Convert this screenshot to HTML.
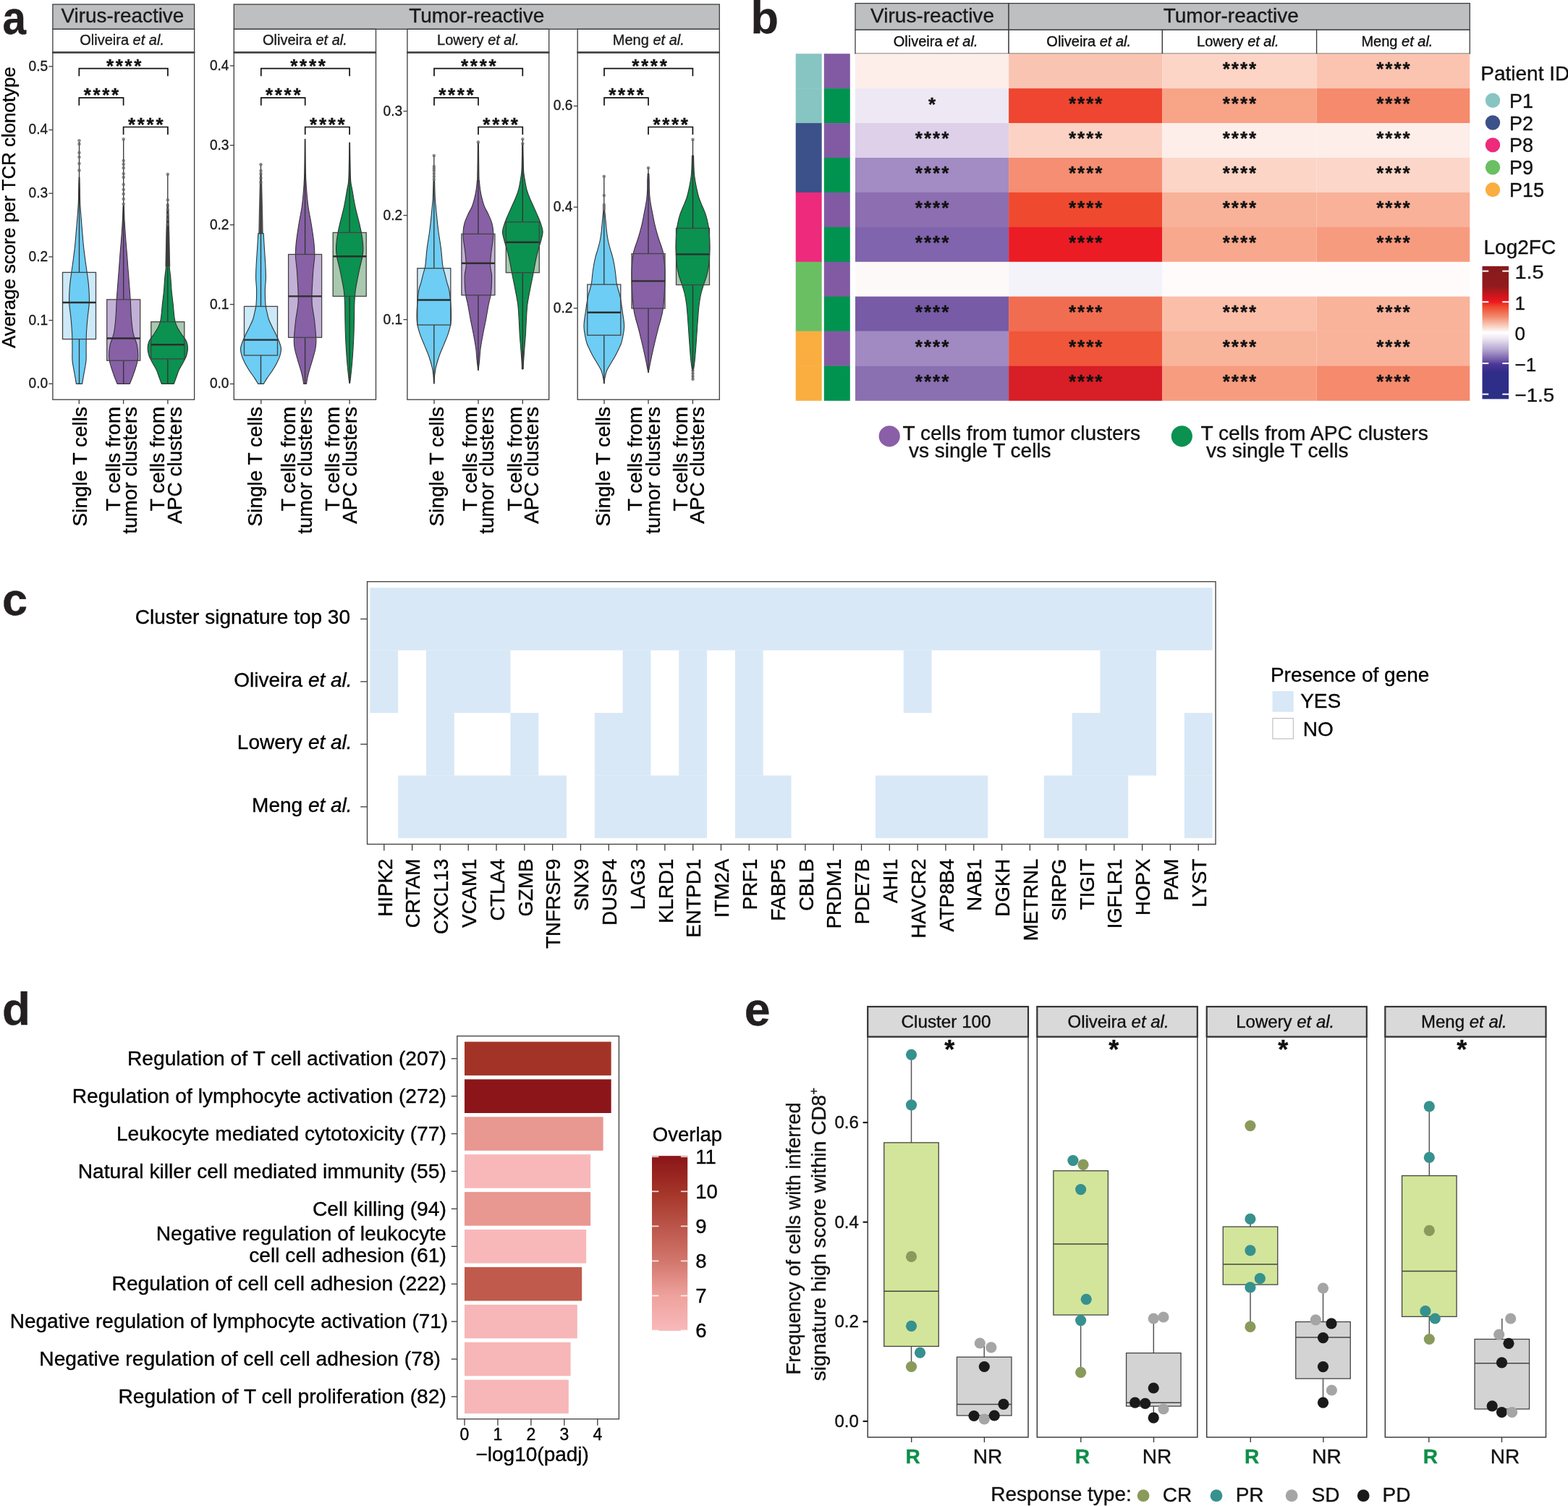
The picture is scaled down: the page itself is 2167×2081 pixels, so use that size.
<!DOCTYPE html><html><head><meta charset="utf-8"><title>Figure</title><style>html,body{margin:0;padding:0;background:#fff}svg{display:block}</style></head><body>
<svg width="2167" height="2081" viewBox="0 0 2167 2081" font-family="'Liberation Sans', Arial, Helvetica, sans-serif">
<rect x="0.00" y="0.00" width="2167.00" height="2081.00" fill="#fff"/>
<text stroke="#231f20" stroke-width="0.35" x="3.60" y="47.00" font-size="64" font-weight="bold" fill="#231f20" textLength="32.50" lengthAdjust="spacingAndGlyphs">a</text>
<rect x="72.90" y="6.00" width="195.70" height="34.30" fill="#bebfc1" stroke="#3d3d3d" stroke-width="1.3"/>
<text stroke="#1a1a1a" stroke-width="0.35" x="169.40" y="31.20" font-size="28" text-anchor="middle" fill="#1a1a1a" textLength="169.80" lengthAdjust="spacingAndGlyphs">Virus-reactive</text>
<rect x="323.30" y="6.00" width="671.00" height="34.30" fill="#bebfc1" stroke="#3d3d3d" stroke-width="1.3"/>
<text stroke="#1a1a1a" stroke-width="0.35" x="658.80" y="31.20" font-size="28" text-anchor="middle" fill="#1a1a1a">Tumor-reactive</text>
<rect x="72.90" y="40.30" width="195.70" height="32.20" fill="#fff" stroke="#3d3d3d" stroke-width="1.3"/>
<text stroke="#1a1a1a" stroke-width="0.35" x="168.60" y="61.9" font-size="20" text-anchor="middle" fill="#1a1a1a">Oliveira <tspan font-style="italic">et al.</tspan></text>
<rect x="323.30" y="40.30" width="196.20" height="32.20" fill="#fff" stroke="#3d3d3d" stroke-width="1.3"/>
<text stroke="#1a1a1a" stroke-width="0.35" x="421.40" y="61.9" font-size="20" text-anchor="middle" fill="#1a1a1a">Oliveira <tspan font-style="italic">et al.</tspan></text>
<rect x="562.90" y="40.30" width="195.80" height="32.20" fill="#fff" stroke="#3d3d3d" stroke-width="1.3"/>
<text stroke="#1a1a1a" stroke-width="0.35" x="660.80" y="61.9" font-size="20" text-anchor="middle" fill="#1a1a1a">Lowery <tspan font-style="italic">et al.</tspan></text>
<rect x="798.20" y="40.30" width="196.10" height="32.20" fill="#fff" stroke="#3d3d3d" stroke-width="1.3"/>
<text stroke="#1a1a1a" stroke-width="0.35" x="896.30" y="61.9" font-size="20" text-anchor="middle" fill="#1a1a1a">Meng <tspan font-style="italic">et al.</tspan></text>
<line x1="67.40" y1="530.30" x2="72.90" y2="530.30" stroke="#3d3d3d" stroke-width="1.3"/>
<text stroke="#1a1a1a" stroke-width="0.35" x="66.10" y="536.20" font-size="20.5" text-anchor="end" fill="#1a1a1a" textLength="26.60" lengthAdjust="spacingAndGlyphs">0.0</text>
<line x1="67.40" y1="442.60" x2="72.90" y2="442.60" stroke="#3d3d3d" stroke-width="1.3"/>
<text stroke="#1a1a1a" stroke-width="0.35" x="66.10" y="448.50" font-size="20.5" text-anchor="end" fill="#1a1a1a" textLength="26.60" lengthAdjust="spacingAndGlyphs">0.1</text>
<line x1="67.40" y1="354.90" x2="72.90" y2="354.90" stroke="#3d3d3d" stroke-width="1.3"/>
<text stroke="#1a1a1a" stroke-width="0.35" x="66.10" y="360.80" font-size="20.5" text-anchor="end" fill="#1a1a1a" textLength="26.60" lengthAdjust="spacingAndGlyphs">0.2</text>
<line x1="67.40" y1="267.20" x2="72.90" y2="267.20" stroke="#3d3d3d" stroke-width="1.3"/>
<text stroke="#1a1a1a" stroke-width="0.35" x="66.10" y="273.10" font-size="20.5" text-anchor="end" fill="#1a1a1a" textLength="26.60" lengthAdjust="spacingAndGlyphs">0.3</text>
<line x1="67.40" y1="179.50" x2="72.90" y2="179.50" stroke="#3d3d3d" stroke-width="1.3"/>
<text stroke="#1a1a1a" stroke-width="0.35" x="66.10" y="185.40" font-size="20.5" text-anchor="end" fill="#1a1a1a" textLength="26.60" lengthAdjust="spacingAndGlyphs">0.4</text>
<line x1="67.40" y1="91.80" x2="72.90" y2="91.80" stroke="#3d3d3d" stroke-width="1.3"/>
<text stroke="#1a1a1a" stroke-width="0.35" x="66.10" y="97.70" font-size="20.5" text-anchor="end" fill="#1a1a1a" textLength="26.60" lengthAdjust="spacingAndGlyphs">0.5</text>
<line x1="317.80" y1="530.50" x2="323.30" y2="530.50" stroke="#3d3d3d" stroke-width="1.3"/>
<text stroke="#1a1a1a" stroke-width="0.35" x="316.50" y="536.40" font-size="20.5" text-anchor="end" fill="#1a1a1a" textLength="26.60" lengthAdjust="spacingAndGlyphs">0.0</text>
<line x1="317.80" y1="420.60" x2="323.30" y2="420.60" stroke="#3d3d3d" stroke-width="1.3"/>
<text stroke="#1a1a1a" stroke-width="0.35" x="316.50" y="426.50" font-size="20.5" text-anchor="end" fill="#1a1a1a" textLength="26.60" lengthAdjust="spacingAndGlyphs">0.1</text>
<line x1="317.80" y1="310.70" x2="323.30" y2="310.70" stroke="#3d3d3d" stroke-width="1.3"/>
<text stroke="#1a1a1a" stroke-width="0.35" x="316.50" y="316.60" font-size="20.5" text-anchor="end" fill="#1a1a1a" textLength="26.60" lengthAdjust="spacingAndGlyphs">0.2</text>
<line x1="317.80" y1="200.80" x2="323.30" y2="200.80" stroke="#3d3d3d" stroke-width="1.3"/>
<text stroke="#1a1a1a" stroke-width="0.35" x="316.50" y="206.70" font-size="20.5" text-anchor="end" fill="#1a1a1a" textLength="26.60" lengthAdjust="spacingAndGlyphs">0.3</text>
<line x1="317.80" y1="90.90" x2="323.30" y2="90.90" stroke="#3d3d3d" stroke-width="1.3"/>
<text stroke="#1a1a1a" stroke-width="0.35" x="316.50" y="96.80" font-size="20.5" text-anchor="end" fill="#1a1a1a" textLength="26.60" lengthAdjust="spacingAndGlyphs">0.4</text>
<line x1="557.40" y1="441.60" x2="562.90" y2="441.60" stroke="#3d3d3d" stroke-width="1.3"/>
<text stroke="#1a1a1a" stroke-width="0.35" x="556.10" y="447.50" font-size="20.5" text-anchor="end" fill="#1a1a1a" textLength="26.60" lengthAdjust="spacingAndGlyphs">0.1</text>
<line x1="557.40" y1="297.60" x2="562.90" y2="297.60" stroke="#3d3d3d" stroke-width="1.3"/>
<text stroke="#1a1a1a" stroke-width="0.35" x="556.10" y="303.50" font-size="20.5" text-anchor="end" fill="#1a1a1a" textLength="26.60" lengthAdjust="spacingAndGlyphs">0.2</text>
<line x1="557.40" y1="153.60" x2="562.90" y2="153.60" stroke="#3d3d3d" stroke-width="1.3"/>
<text stroke="#1a1a1a" stroke-width="0.35" x="556.10" y="159.50" font-size="20.5" text-anchor="end" fill="#1a1a1a" textLength="26.60" lengthAdjust="spacingAndGlyphs">0.3</text>
<line x1="792.70" y1="425.90" x2="798.20" y2="425.90" stroke="#3d3d3d" stroke-width="1.3"/>
<text stroke="#1a1a1a" stroke-width="0.35" x="791.40" y="431.80" font-size="20.5" text-anchor="end" fill="#1a1a1a" textLength="26.60" lengthAdjust="spacingAndGlyphs">0.2</text>
<line x1="792.70" y1="286.20" x2="798.20" y2="286.20" stroke="#3d3d3d" stroke-width="1.3"/>
<text stroke="#1a1a1a" stroke-width="0.35" x="791.40" y="292.10" font-size="20.5" text-anchor="end" fill="#1a1a1a" textLength="26.60" lengthAdjust="spacingAndGlyphs">0.4</text>
<line x1="792.70" y1="146.50" x2="798.20" y2="146.50" stroke="#3d3d3d" stroke-width="1.3"/>
<text stroke="#1a1a1a" stroke-width="0.35" x="791.40" y="152.40" font-size="20.5" text-anchor="end" fill="#1a1a1a" textLength="26.60" lengthAdjust="spacingAndGlyphs">0.6</text>
<rect x="86.50" y="376.40" width="46.00" height="92.20" fill="#cde9f8"/>
<path d="M109.50,245.00 L109.90,245.00 C109.97,247.50 110.17,254.10 110.30,260.00 C110.43,265.90 110.40,273.60 110.70,280.40 C111.00,287.20 111.58,294.00 112.10,300.80 C112.62,307.60 113.22,314.40 113.80,321.20 C114.38,328.00 114.87,334.80 115.60,341.60 C116.33,348.40 117.43,356.22 118.20,362.00 C118.97,367.78 119.52,371.18 120.20,376.30 C120.88,381.42 121.78,387.42 122.30,392.70 C122.82,397.98 123.15,403.38 123.30,408.00 C123.45,412.62 123.60,414.93 123.20,420.40 C122.80,425.87 121.53,434.00 120.90,440.80 C120.27,447.60 119.70,454.40 119.40,461.20 C119.10,468.00 119.15,475.65 119.10,481.60 C119.05,487.55 119.33,492.65 119.10,496.90 C118.87,501.15 118.25,503.70 117.70,507.10 C117.15,510.50 116.48,513.42 115.80,517.30 C115.12,521.18 113.97,528.22 113.60,530.40 L105.40,530.40 C105.03,528.22 103.88,521.18 103.20,517.30 C102.52,513.42 101.85,510.50 101.30,507.10 C100.75,503.70 100.13,501.15 99.90,496.90 C99.67,492.65 99.95,487.55 99.90,481.60 C99.85,475.65 99.90,468.00 99.60,461.20 C99.30,454.40 98.73,447.60 98.10,440.80 C97.47,434.00 96.20,425.87 95.80,420.40 C95.40,414.93 95.55,412.62 95.70,408.00 C95.85,403.38 96.18,397.98 96.70,392.70 C97.22,387.42 98.12,381.42 98.80,376.30 C99.48,371.18 100.03,367.78 100.80,362.00 C101.57,356.22 102.67,348.40 103.40,341.60 C104.13,334.80 104.62,328.00 105.20,321.20 C105.78,314.40 106.38,307.60 106.90,300.80 C107.42,294.00 108.00,287.20 108.30,280.40 C108.60,273.60 108.57,265.90 108.70,260.00 C108.83,254.10 109.03,247.50 109.10,245.00 Z" fill="#6dcdf4" stroke="#333" stroke-width="1.1" stroke-linejoin="round"/>
<line x1="109.50" y1="196.00" x2="109.50" y2="376.40" stroke="#333" stroke-width="1.3"/>
<line x1="109.50" y1="468.60" x2="109.50" y2="530.40" stroke="#333" stroke-width="1.3"/>
<circle cx="109.50" cy="194.30" r="2.30" fill="#666" fill-opacity="0.75"/>
<circle cx="109.50" cy="199.00" r="2.30" fill="#666" fill-opacity="0.75"/>
<circle cx="109.50" cy="211.00" r="2.30" fill="#666" fill-opacity="0.75"/>
<circle cx="109.50" cy="217.00" r="2.30" fill="#666" fill-opacity="0.75"/>
<circle cx="109.50" cy="226.00" r="2.30" fill="#666" fill-opacity="0.75"/>
<circle cx="109.50" cy="235.40" r="2.30" fill="#666" fill-opacity="0.75"/>
<rect x="86.50" y="376.40" width="46.00" height="92.20" fill="none" stroke="#444" stroke-width="1.3"/>
<line x1="86.50" y1="418.00" x2="132.50" y2="418.00" stroke="#2d2d2d" stroke-width="2.4"/>
<rect x="147.70" y="413.90" width="46.00" height="84.30" fill="#c3b0d7"/>
<path d="M170.70,284.50 L171.30,284.50 C171.38,287.08 171.62,295.58 171.80,300.00 C171.98,304.42 172.07,305.77 172.40,311.00 C172.73,316.23 173.28,324.60 173.80,331.40 C174.32,338.20 174.97,345.00 175.50,351.80 C176.03,358.60 176.48,365.38 177.00,372.20 C177.52,379.02 178.08,385.90 178.60,392.70 C179.12,399.50 179.60,404.98 180.10,413.00 C180.60,421.02 180.92,432.77 181.60,440.80 C182.28,448.83 182.92,455.25 184.20,461.20 C185.48,467.15 188.20,471.40 189.30,476.50 C190.40,481.60 190.80,487.55 190.80,491.80 C190.80,496.05 190.07,498.60 189.30,502.00 C188.53,505.40 187.32,508.80 186.20,512.20 C185.08,515.60 183.75,519.37 182.60,522.40 C181.45,525.43 179.85,529.07 179.30,530.40 L162.10,530.40 C161.55,529.07 159.95,525.43 158.80,522.40 C157.65,519.37 156.32,515.60 155.20,512.20 C154.08,508.80 152.87,505.40 152.10,502.00 C151.33,498.60 150.60,496.05 150.60,491.80 C150.60,487.55 151.00,481.60 152.10,476.50 C153.20,471.40 155.92,467.15 157.20,461.20 C158.48,455.25 159.12,448.83 159.80,440.80 C160.48,432.77 160.80,421.02 161.30,413.00 C161.80,404.98 162.28,399.50 162.80,392.70 C163.32,385.90 163.88,379.02 164.40,372.20 C164.92,365.38 165.37,358.60 165.90,351.80 C166.43,345.00 167.08,338.20 167.60,331.40 C168.12,324.60 168.67,316.23 169.00,311.00 C169.33,305.77 169.42,304.42 169.60,300.00 C169.78,295.58 170.02,287.08 170.10,284.50 Z" fill="#8760a6" stroke="#333" stroke-width="1.1" stroke-linejoin="round"/>
<line x1="170.70" y1="192.40" x2="170.70" y2="413.90" stroke="#333" stroke-width="1.3"/>
<line x1="170.70" y1="498.20" x2="170.70" y2="530.40" stroke="#333" stroke-width="1.3"/>
<circle cx="170.70" cy="192.40" r="2.30" fill="#666" fill-opacity="0.75"/>
<circle cx="170.70" cy="222.00" r="2.30" fill="#666" fill-opacity="0.75"/>
<circle cx="170.70" cy="227.00" r="2.30" fill="#666" fill-opacity="0.75"/>
<circle cx="170.70" cy="232.00" r="2.30" fill="#666" fill-opacity="0.75"/>
<circle cx="170.70" cy="240.00" r="2.30" fill="#666" fill-opacity="0.75"/>
<circle cx="170.70" cy="245.00" r="2.30" fill="#666" fill-opacity="0.75"/>
<circle cx="170.70" cy="255.00" r="2.30" fill="#666" fill-opacity="0.75"/>
<circle cx="170.70" cy="262.00" r="2.30" fill="#666" fill-opacity="0.75"/>
<circle cx="170.70" cy="268.00" r="2.30" fill="#666" fill-opacity="0.75"/>
<circle cx="170.70" cy="275.00" r="2.30" fill="#666" fill-opacity="0.75"/>
<circle cx="170.70" cy="282.00" r="2.30" fill="#666" fill-opacity="0.75"/>
<rect x="147.70" y="413.90" width="46.00" height="84.30" fill="none" stroke="#444" stroke-width="1.3"/>
<line x1="147.70" y1="467.50" x2="193.70" y2="467.50" stroke="#2d2d2d" stroke-width="2.4"/>
<rect x="208.80" y="444.70" width="46.00" height="51.20" fill="#a8c9ae"/>
<path d="M231.80,290.00 L232.60,290.00 C232.72,296.67 233.05,317.15 233.30,330.00 C233.55,342.85 233.70,358.37 234.10,367.10 C234.50,375.83 235.18,376.43 235.70,382.40 C236.22,388.37 236.62,396.57 237.20,402.90 C237.78,409.23 238.52,414.08 239.20,420.40 C239.88,426.72 240.43,435.70 241.30,440.80 C242.17,445.90 242.87,447.60 244.40,451.00 C245.93,454.40 248.30,457.80 250.50,461.20 C252.70,464.60 256.10,468.00 257.60,471.40 C259.10,474.80 259.50,478.20 259.50,481.60 C259.50,485.00 258.77,488.40 257.60,491.80 C256.43,495.20 254.28,498.60 252.50,502.00 C250.72,505.40 248.43,508.80 246.90,512.20 C245.37,515.60 244.40,519.37 243.30,522.40 C242.20,525.43 240.80,529.07 240.30,530.40 L223.30,530.40 C222.80,529.07 221.40,525.43 220.30,522.40 C219.20,519.37 218.23,515.60 216.70,512.20 C215.17,508.80 212.88,505.40 211.10,502.00 C209.32,498.60 207.17,495.20 206.00,491.80 C204.83,488.40 204.10,485.00 204.10,481.60 C204.10,478.20 204.50,474.80 206.00,471.40 C207.50,468.00 210.90,464.60 213.10,461.20 C215.30,457.80 217.67,454.40 219.20,451.00 C220.73,447.60 221.43,445.90 222.30,440.80 C223.17,435.70 223.72,426.72 224.40,420.40 C225.08,414.08 225.82,409.23 226.40,402.90 C226.98,396.57 227.38,388.37 227.90,382.40 C228.42,376.43 229.10,375.83 229.50,367.10 C229.90,358.37 230.05,342.85 230.30,330.00 C230.55,317.15 230.88,296.67 231.00,290.00 Z" fill="#0b9150" stroke="#333" stroke-width="1.1" stroke-linejoin="round"/>
<line x1="231.80" y1="240.80" x2="231.80" y2="444.70" stroke="#333" stroke-width="1.3"/>
<line x1="231.80" y1="495.90" x2="231.80" y2="530.40" stroke="#333" stroke-width="1.3"/>
<path d="M230.50,281.00 L233.10,281.00 Q234.52,324.50 235.20,368.00 L228.40,368.00 Q229.08,324.50 230.50,281.00 Z" fill="#3c3c3c" fill-opacity="0.9"/>
<circle cx="231.80" cy="240.80" r="2.30" fill="#666" fill-opacity="0.75"/>
<circle cx="231.80" cy="276.30" r="2.30" fill="#666" fill-opacity="0.75"/>
<circle cx="231.80" cy="284.00" r="2.30" fill="#666" fill-opacity="0.75"/>
<circle cx="231.80" cy="290.00" r="2.30" fill="#666" fill-opacity="0.75"/>
<circle cx="231.80" cy="297.00" r="2.30" fill="#666" fill-opacity="0.75"/>
<circle cx="231.80" cy="303.00" r="2.30" fill="#666" fill-opacity="0.75"/>
<circle cx="231.80" cy="310.00" r="2.30" fill="#666" fill-opacity="0.75"/>
<rect x="208.80" y="444.70" width="46.00" height="51.20" fill="none" stroke="#444" stroke-width="1.3"/>
<line x1="208.80" y1="476.30" x2="254.80" y2="476.30" stroke="#2d2d2d" stroke-width="2.4"/>
<rect x="337.50" y="423.40" width="46.00" height="67.60" fill="#cde9f8"/>
<path d="M360.50,322.60 L364.20,322.60 C364.40,326.10 364.95,336.20 365.40,343.60 C365.85,351.00 366.57,360.17 366.90,367.00 C367.23,373.83 367.48,379.03 367.40,384.60 C367.32,390.17 366.47,394.37 366.40,400.40 C366.33,406.43 366.58,415.70 367.00,420.80 C367.42,425.90 368.17,427.60 368.90,431.00 C369.63,434.40 370.22,437.80 371.40,441.20 C372.58,444.60 374.38,448.00 376.00,451.40 C377.62,454.80 379.48,458.20 381.10,461.60 C382.72,465.00 384.47,468.40 385.70,471.80 C386.93,475.20 388.33,478.60 388.50,482.00 C388.67,485.40 387.77,488.80 386.70,492.20 C385.63,495.60 383.88,498.98 382.10,502.40 C380.32,505.82 378.20,509.28 376.00,512.70 C373.80,516.12 370.85,519.95 368.90,522.90 C366.95,525.85 365.07,529.15 364.30,530.40 L356.70,530.40 C355.93,529.15 354.05,525.85 352.10,522.90 C350.15,519.95 347.20,516.12 345.00,512.70 C342.80,509.28 340.68,505.82 338.90,502.40 C337.12,498.98 335.37,495.60 334.30,492.20 C333.23,488.80 332.33,485.40 332.50,482.00 C332.67,478.60 334.07,475.20 335.30,471.80 C336.53,468.40 338.28,465.00 339.90,461.60 C341.52,458.20 343.38,454.80 345.00,451.40 C346.62,448.00 348.42,444.60 349.60,441.20 C350.78,437.80 351.37,434.40 352.10,431.00 C352.83,427.60 353.58,425.90 354.00,420.80 C354.42,415.70 354.67,406.43 354.60,400.40 C354.53,394.37 353.68,390.17 353.60,384.60 C353.52,379.03 353.77,373.83 354.10,367.00 C354.43,360.17 355.15,351.00 355.60,343.60 C356.05,336.20 356.60,326.10 356.80,322.60 Z" fill="#6dcdf4" stroke="#333" stroke-width="1.1" stroke-linejoin="round"/>
<line x1="360.50" y1="227.30" x2="360.50" y2="423.40" stroke="#333" stroke-width="1.3"/>
<line x1="360.50" y1="491.00" x2="360.50" y2="530.40" stroke="#333" stroke-width="1.3"/>
<path d="M359.20,240.00 L361.80,240.00 Q363.06,281.50 363.70,323.00 L357.30,323.00 Q357.94,281.50 359.20,240.00 Z" fill="#3c3c3c" fill-opacity="0.9"/>
<circle cx="360.50" cy="227.30" r="2.30" fill="#666" fill-opacity="0.75"/>
<circle cx="360.50" cy="236.00" r="2.30" fill="#666" fill-opacity="0.75"/>
<circle cx="360.50" cy="240.00" r="2.30" fill="#666" fill-opacity="0.75"/>
<circle cx="360.50" cy="246.00" r="2.30" fill="#666" fill-opacity="0.75"/>
<circle cx="360.50" cy="252.00" r="2.30" fill="#666" fill-opacity="0.75"/>
<rect x="337.50" y="423.40" width="46.00" height="67.60" fill="none" stroke="#444" stroke-width="1.3"/>
<line x1="337.50" y1="469.60" x2="383.50" y2="469.60" stroke="#2d2d2d" stroke-width="2.4"/>
<rect x="398.60" y="351.50" width="46.00" height="114.80" fill="#c3b0d7"/>
<path d="M421.60,192.40 L421.90,192.40 C421.98,200.07 422.12,226.83 422.40,238.40 C422.68,249.97 423.02,254.00 423.60,261.80 C424.18,269.60 424.83,277.40 425.90,285.20 C426.97,293.00 428.73,300.80 430.00,308.60 C431.27,316.40 432.75,326.17 433.50,332.00 C434.25,337.83 434.30,339.72 434.50,343.60 C434.70,347.48 434.97,350.42 434.70,355.30 C434.43,360.18 433.38,367.05 432.90,372.90 C432.42,378.75 432.10,385.05 431.80,390.40 C431.50,395.75 431.18,399.93 431.10,405.00 C431.02,410.07 430.75,414.77 431.30,420.80 C431.85,426.83 433.55,434.40 434.40,441.20 C435.25,448.00 435.98,456.50 436.40,461.60 C436.82,466.70 436.98,468.40 436.90,471.80 C436.82,475.20 436.50,478.60 435.90,482.00 C435.30,485.40 434.23,488.80 433.30,492.20 C432.37,495.60 431.32,498.98 430.30,502.40 C429.28,505.82 428.13,509.28 427.20,512.70 C426.27,516.12 425.30,519.95 424.70,522.90 C424.10,525.85 423.78,529.15 423.60,530.40 L419.60,530.40 C419.42,529.15 419.10,525.85 418.50,522.90 C417.90,519.95 416.93,516.12 416.00,512.70 C415.07,509.28 413.92,505.82 412.90,502.40 C411.88,498.98 410.83,495.60 409.90,492.20 C408.97,488.80 407.90,485.40 407.30,482.00 C406.70,478.60 406.38,475.20 406.30,471.80 C406.22,468.40 406.38,466.70 406.80,461.60 C407.22,456.50 407.95,448.00 408.80,441.20 C409.65,434.40 411.35,426.83 411.90,420.80 C412.45,414.77 412.18,410.07 412.10,405.00 C412.02,399.93 411.70,395.75 411.40,390.40 C411.10,385.05 410.78,378.75 410.30,372.90 C409.82,367.05 408.77,360.18 408.50,355.30 C408.23,350.42 408.50,347.48 408.70,343.60 C408.90,339.72 408.95,337.83 409.70,332.00 C410.45,326.17 411.93,316.40 413.20,308.60 C414.47,300.80 416.23,293.00 417.30,285.20 C418.37,277.40 419.02,269.60 419.60,261.80 C420.18,254.00 420.52,249.97 420.80,238.40 C421.08,226.83 421.22,200.07 421.30,192.40 Z" fill="#8760a6" stroke="#333" stroke-width="1.1" stroke-linejoin="round"/>
<line x1="421.60" y1="192.40" x2="421.60" y2="351.50" stroke="#333" stroke-width="1.3"/>
<line x1="421.60" y1="466.30" x2="421.60" y2="530.40" stroke="#333" stroke-width="1.3"/>
<rect x="398.60" y="351.50" width="46.00" height="114.80" fill="none" stroke="#444" stroke-width="1.3"/>
<line x1="398.60" y1="409.40" x2="444.60" y2="409.40" stroke="#2d2d2d" stroke-width="2.4"/>
<rect x="460.20" y="321.40" width="46.00" height="88.00" fill="#a8c9ae"/>
<path d="M483.20,197.00 L483.50,197.00 C483.58,201.97 483.80,217.95 484.00,226.80 C484.20,235.65 484.25,244.27 484.70,250.10 C485.15,255.93 485.68,255.95 486.70,261.80 C487.72,267.65 489.15,277.40 490.80,285.20 C492.45,293.00 495.03,301.78 496.60,308.60 C498.17,315.42 499.32,320.27 500.20,326.10 C501.08,331.93 501.82,338.73 501.90,343.60 C501.98,348.47 501.58,350.42 500.70,355.30 C499.82,360.18 497.87,367.05 496.60,372.90 C495.33,378.75 493.97,385.88 493.10,390.40 C492.23,394.92 491.83,396.97 491.40,400.00 C490.97,403.03 490.77,405.13 490.50,408.60 C490.23,412.07 489.97,415.37 489.80,420.80 C489.63,426.23 489.63,434.40 489.50,441.20 C489.37,448.00 489.25,454.80 489.00,461.60 C488.75,468.40 488.42,475.20 488.00,482.00 C487.58,488.80 487.10,495.58 486.50,502.40 C485.90,509.22 484.90,518.38 484.40,522.90 C483.90,527.42 483.65,528.40 483.50,529.50 L482.90,529.50 C482.75,528.40 482.50,527.42 482.00,522.90 C481.50,518.38 480.50,509.22 479.90,502.40 C479.30,495.58 478.82,488.80 478.40,482.00 C477.98,475.20 477.65,468.40 477.40,461.60 C477.15,454.80 477.03,448.00 476.90,441.20 C476.77,434.40 476.77,426.23 476.60,420.80 C476.43,415.37 476.17,412.07 475.90,408.60 C475.63,405.13 475.43,403.03 475.00,400.00 C474.57,396.97 474.17,394.92 473.30,390.40 C472.43,385.88 471.07,378.75 469.80,372.90 C468.53,367.05 466.58,360.18 465.70,355.30 C464.82,350.42 464.42,348.47 464.50,343.60 C464.58,338.73 465.32,331.93 466.20,326.10 C467.08,320.27 468.23,315.42 469.80,308.60 C471.37,301.78 473.95,293.00 475.60,285.20 C477.25,277.40 478.68,267.65 479.70,261.80 C480.72,255.95 481.25,255.93 481.70,250.10 C482.15,244.27 482.20,235.65 482.40,226.80 C482.60,217.95 482.82,201.97 482.90,197.00 Z" fill="#0b9150" stroke="#333" stroke-width="1.1" stroke-linejoin="round"/>
<line x1="483.20" y1="197.00" x2="483.20" y2="321.40" stroke="#333" stroke-width="1.3"/>
<line x1="483.20" y1="409.40" x2="483.20" y2="529.50" stroke="#333" stroke-width="1.3"/>
<rect x="460.20" y="321.40" width="46.00" height="88.00" fill="none" stroke="#444" stroke-width="1.3"/>
<line x1="460.20" y1="354.20" x2="506.20" y2="354.20" stroke="#2d2d2d" stroke-width="2.4"/>
<rect x="576.80" y="370.70" width="46.00" height="78.30" fill="#cde9f8"/>
<path d="M599.80,250.00 L600.60,250.00 C600.72,253.92 601.02,267.63 601.30,273.50 C601.58,279.37 601.95,281.30 602.30,285.20 C602.65,289.10 602.78,291.05 603.40,296.90 C604.02,302.75 604.98,312.52 606.00,320.30 C607.02,328.08 608.53,335.82 609.50,343.60 C610.47,351.38 610.92,361.15 611.80,367.00 C612.68,372.85 613.82,374.80 614.80,378.70 C615.78,382.60 616.72,386.78 617.70,390.40 C618.68,394.02 619.90,396.18 620.70,400.40 C621.50,404.62 622.03,410.60 622.50,415.70 C622.97,420.80 623.40,425.90 623.50,431.00 C623.60,436.10 623.82,441.20 623.10,446.30 C622.38,451.40 620.87,456.50 619.20,461.60 C617.53,466.70 615.15,471.80 613.10,476.90 C611.05,482.00 608.68,487.08 606.90,492.20 C605.12,497.32 603.42,503.33 602.40,507.60 C601.38,511.87 601.20,514.07 600.80,517.80 C600.40,521.53 600.13,527.97 600.00,530.00 L599.60,530.00 C599.47,527.97 599.20,521.53 598.80,517.80 C598.40,514.07 598.22,511.87 597.20,507.60 C596.18,503.33 594.48,497.32 592.70,492.20 C590.92,487.08 588.55,482.00 586.50,476.90 C584.45,471.80 582.07,466.70 580.40,461.60 C578.73,456.50 577.22,451.40 576.50,446.30 C575.78,441.20 576.00,436.10 576.10,431.00 C576.20,425.90 576.63,420.80 577.10,415.70 C577.57,410.60 578.10,404.62 578.90,400.40 C579.70,396.18 580.92,394.02 581.90,390.40 C582.88,386.78 583.82,382.60 584.80,378.70 C585.78,374.80 586.92,372.85 587.80,367.00 C588.68,361.15 589.13,351.38 590.10,343.60 C591.07,335.82 592.58,328.08 593.60,320.30 C594.62,312.52 595.58,302.75 596.20,296.90 C596.82,291.05 596.95,289.10 597.30,285.20 C597.65,281.30 598.02,279.37 598.30,273.50 C598.58,267.63 598.88,253.92 599.00,250.00 Z" fill="#6dcdf4" stroke="#333" stroke-width="1.1" stroke-linejoin="round"/>
<line x1="599.80" y1="215.00" x2="599.80" y2="370.70" stroke="#333" stroke-width="1.3"/>
<line x1="599.80" y1="449.00" x2="599.80" y2="530.00" stroke="#333" stroke-width="1.3"/>
<circle cx="599.80" cy="215.00" r="2.30" fill="#666" fill-opacity="0.75"/>
<circle cx="599.80" cy="230.00" r="2.30" fill="#666" fill-opacity="0.75"/>
<circle cx="599.80" cy="233.00" r="2.30" fill="#666" fill-opacity="0.75"/>
<circle cx="599.80" cy="236.00" r="2.30" fill="#666" fill-opacity="0.75"/>
<circle cx="599.80" cy="240.00" r="2.30" fill="#666" fill-opacity="0.75"/>
<circle cx="599.80" cy="244.00" r="2.30" fill="#666" fill-opacity="0.75"/>
<circle cx="599.80" cy="248.00" r="2.30" fill="#666" fill-opacity="0.75"/>
<rect x="576.80" y="370.70" width="46.00" height="78.30" fill="none" stroke="#444" stroke-width="1.3"/>
<line x1="576.80" y1="414.50" x2="622.80" y2="414.50" stroke="#2d2d2d" stroke-width="2.4"/>
<rect x="637.90" y="323.30" width="46.00" height="84.50" fill="#c3b0d7"/>
<path d="M660.90,197.50 L661.40,197.50 C661.48,205.25 661.73,235.23 661.90,244.00 C662.07,252.77 662.12,247.13 662.40,250.10 C662.68,253.07 663.02,257.90 663.60,261.80 C664.18,265.70 664.93,269.60 665.90,273.50 C666.87,277.40 667.83,281.30 669.40,285.20 C670.97,289.10 673.55,293.00 675.30,296.90 C677.05,300.80 678.83,304.70 679.90,308.60 C680.97,312.50 681.48,316.40 681.70,320.30 C681.92,324.20 681.68,327.13 681.20,332.00 C680.72,336.87 679.40,343.67 678.80,349.50 C678.20,355.33 677.48,361.92 677.60,367.00 C677.72,372.08 679.22,375.28 679.50,380.00 C679.78,384.72 679.52,390.70 679.30,395.30 C679.08,399.90 678.88,403.35 678.20,407.60 C677.52,411.85 676.30,415.20 675.20,420.80 C674.10,426.40 672.88,434.40 671.60,441.20 C670.32,448.00 668.77,454.80 667.50,461.60 C666.23,468.40 664.80,476.05 664.00,482.00 C663.20,487.95 663.18,492.37 662.70,497.30 C662.22,502.23 661.37,509.22 661.10,511.60 L660.70,511.60 C660.43,509.22 659.58,502.23 659.10,497.30 C658.62,492.37 658.60,487.95 657.80,482.00 C657.00,476.05 655.57,468.40 654.30,461.60 C653.03,454.80 651.48,448.00 650.20,441.20 C648.92,434.40 647.70,426.40 646.60,420.80 C645.50,415.20 644.28,411.85 643.60,407.60 C642.92,403.35 642.72,399.90 642.50,395.30 C642.28,390.70 642.02,384.72 642.30,380.00 C642.58,375.28 644.08,372.08 644.20,367.00 C644.32,361.92 643.60,355.33 643.00,349.50 C642.40,343.67 641.08,336.87 640.60,332.00 C640.12,327.13 639.88,324.20 640.10,320.30 C640.32,316.40 640.83,312.50 641.90,308.60 C642.97,304.70 644.75,300.80 646.50,296.90 C648.25,293.00 650.83,289.10 652.40,285.20 C653.97,281.30 654.93,277.40 655.90,273.50 C656.87,269.60 657.62,265.70 658.20,261.80 C658.78,257.90 659.12,253.07 659.40,250.10 C659.68,247.13 659.73,252.77 659.90,244.00 C660.07,235.23 660.32,205.25 660.40,197.50 Z" fill="#8760a6" stroke="#333" stroke-width="1.1" stroke-linejoin="round"/>
<line x1="660.90" y1="196.40" x2="660.90" y2="323.30" stroke="#333" stroke-width="1.3"/>
<line x1="660.90" y1="407.80" x2="660.90" y2="511.60" stroke="#333" stroke-width="1.3"/>
<circle cx="660.90" cy="196.40" r="2.30" fill="#666" fill-opacity="0.75"/>
<rect x="637.90" y="323.30" width="46.00" height="84.50" fill="none" stroke="#444" stroke-width="1.3"/>
<line x1="637.90" y1="363.70" x2="683.90" y2="363.70" stroke="#2d2d2d" stroke-width="2.4"/>
<rect x="699.30" y="306.70" width="46.00" height="70.00" fill="#a8c9ae"/>
<path d="M722.30,199.00 L722.80,199.00 C722.88,203.63 723.13,220.23 723.30,226.80 C723.47,233.37 723.42,234.52 723.80,238.40 C724.18,242.28 724.92,246.20 725.60,250.10 C726.28,254.00 726.83,257.90 727.90,261.80 C728.97,265.70 730.43,269.60 732.00,273.50 C733.57,277.40 735.55,281.30 737.30,285.20 C739.05,289.10 740.85,293.00 742.50,296.90 C744.15,300.80 745.93,304.70 747.20,308.60 C748.47,312.50 750.00,316.40 750.10,320.30 C750.20,324.20 748.77,328.12 747.80,332.00 C746.83,335.88 745.38,339.72 744.30,343.60 C743.22,347.48 742.18,351.40 741.30,355.30 C740.42,359.20 739.78,362.88 739.00,367.00 C738.22,371.12 737.68,374.43 736.60,380.00 C735.52,385.57 733.78,393.60 732.50,400.40 C731.22,407.20 729.75,414.00 728.90,420.80 C728.05,427.60 727.82,434.40 727.40,441.20 C726.98,448.00 726.83,454.80 726.40,461.60 C725.97,468.40 725.28,475.60 724.80,482.00 C724.32,488.40 723.87,495.33 723.50,500.00 C723.13,504.67 722.75,508.33 722.60,510.00 L722.00,510.00 C721.85,508.33 721.47,504.67 721.10,500.00 C720.73,495.33 720.28,488.40 719.80,482.00 C719.32,475.60 718.63,468.40 718.20,461.60 C717.77,454.80 717.62,448.00 717.20,441.20 C716.78,434.40 716.55,427.60 715.70,420.80 C714.85,414.00 713.38,407.20 712.10,400.40 C710.82,393.60 709.08,385.57 708.00,380.00 C706.92,374.43 706.38,371.12 705.60,367.00 C704.82,362.88 704.18,359.20 703.30,355.30 C702.42,351.40 701.38,347.48 700.30,343.60 C699.22,339.72 697.77,335.88 696.80,332.00 C695.83,328.12 694.40,324.20 694.50,320.30 C694.60,316.40 696.13,312.50 697.40,308.60 C698.67,304.70 700.45,300.80 702.10,296.90 C703.75,293.00 705.55,289.10 707.30,285.20 C709.05,281.30 711.03,277.40 712.60,273.50 C714.17,269.60 715.63,265.70 716.70,261.80 C717.77,257.90 718.32,254.00 719.00,250.10 C719.68,246.20 720.42,242.28 720.80,238.40 C721.18,234.52 721.13,233.37 721.30,226.80 C721.47,220.23 721.72,203.63 721.80,199.00 Z" fill="#0b9150" stroke="#333" stroke-width="1.1" stroke-linejoin="round"/>
<line x1="722.30" y1="192.70" x2="722.30" y2="306.70" stroke="#333" stroke-width="1.3"/>
<line x1="722.30" y1="376.70" x2="722.30" y2="510.60" stroke="#333" stroke-width="1.3"/>
<path d="M721.00,484.00 L723.60,484.00 Q723.58,497.00 723.90,510.00 L720.70,510.00 Q721.02,497.00 721.00,484.00 Z" fill="#3c3c3c" fill-opacity="0.9"/>
<circle cx="722.30" cy="192.20" r="2.30" fill="#666" fill-opacity="0.75"/>
<circle cx="722.30" cy="198.50" r="2.30" fill="#666" fill-opacity="0.75"/>
<rect x="699.30" y="306.70" width="46.00" height="70.00" fill="none" stroke="#444" stroke-width="1.3"/>
<line x1="699.30" y1="334.80" x2="745.30" y2="334.80" stroke="#2d2d2d" stroke-width="2.4"/>
<rect x="811.80" y="393.10" width="46.00" height="70.10" fill="#cde9f8"/>
<path d="M834.80,290.00 L835.60,290.00 C835.72,291.15 836.00,293.80 836.30,296.90 C836.60,300.00 837.03,304.70 837.40,308.60 C837.77,312.50 838.02,316.40 838.50,320.30 C838.98,324.20 839.52,328.12 840.30,332.00 C841.08,335.88 842.13,339.72 843.20,343.60 C844.27,347.48 845.72,351.40 846.70,355.30 C847.68,359.20 848.42,363.10 849.10,367.00 C849.78,370.90 850.32,374.80 850.80,378.70 C851.28,382.60 851.42,386.85 852.00,390.40 C852.58,393.95 853.43,396.63 854.30,400.00 C855.17,403.37 856.20,405.43 857.20,410.60 C858.20,415.77 859.40,424.20 860.30,431.00 C861.20,437.80 862.77,444.60 862.60,451.40 C862.43,458.20 860.53,466.70 859.30,471.80 C858.07,476.90 856.73,478.60 855.20,482.00 C853.67,485.40 851.97,488.80 850.10,492.20 C848.23,495.60 845.95,498.98 844.00,502.40 C842.05,505.82 839.77,509.28 838.40,512.70 C837.03,516.12 836.37,520.02 835.80,522.90 C835.23,525.78 835.13,528.82 835.00,530.00 L834.60,530.00 C834.47,528.82 834.37,525.78 833.80,522.90 C833.23,520.02 832.57,516.12 831.20,512.70 C829.83,509.28 827.55,505.82 825.60,502.40 C823.65,498.98 821.37,495.60 819.50,492.20 C817.63,488.80 815.93,485.40 814.40,482.00 C812.87,478.60 811.53,476.90 810.30,471.80 C809.07,466.70 807.17,458.20 807.00,451.40 C806.83,444.60 808.40,437.80 809.30,431.00 C810.20,424.20 811.40,415.77 812.40,410.60 C813.40,405.43 814.43,403.37 815.30,400.00 C816.17,396.63 817.02,393.95 817.60,390.40 C818.18,386.85 818.32,382.60 818.80,378.70 C819.28,374.80 819.82,370.90 820.50,367.00 C821.18,363.10 821.92,359.20 822.90,355.30 C823.88,351.40 825.33,347.48 826.40,343.60 C827.47,339.72 828.52,335.88 829.30,332.00 C830.08,328.12 830.62,324.20 831.10,320.30 C831.58,316.40 831.83,312.50 832.20,308.60 C832.57,304.70 833.00,300.00 833.30,296.90 C833.60,293.80 833.88,291.15 834.00,290.00 Z" fill="#6dcdf4" stroke="#333" stroke-width="1.1" stroke-linejoin="round"/>
<line x1="834.80" y1="243.70" x2="834.80" y2="393.10" stroke="#333" stroke-width="1.3"/>
<line x1="834.80" y1="463.20" x2="834.80" y2="530.00" stroke="#333" stroke-width="1.3"/>
<circle cx="834.80" cy="243.70" r="2.30" fill="#666" fill-opacity="0.75"/>
<circle cx="834.80" cy="270.00" r="2.30" fill="#666" fill-opacity="0.75"/>
<circle cx="834.80" cy="283.00" r="2.30" fill="#666" fill-opacity="0.75"/>
<circle cx="834.80" cy="286.00" r="2.30" fill="#666" fill-opacity="0.75"/>
<circle cx="834.80" cy="289.00" r="2.30" fill="#666" fill-opacity="0.75"/>
<rect x="811.80" y="393.10" width="46.00" height="70.10" fill="none" stroke="#444" stroke-width="1.3"/>
<line x1="811.80" y1="431.70" x2="857.80" y2="431.70" stroke="#2d2d2d" stroke-width="2.4"/>
<rect x="873.00" y="350.50" width="46.00" height="75.60" fill="#c3b0d7"/>
<path d="M896.00,240.00 L896.80,240.00 C896.87,241.68 897.12,246.47 897.20,250.10 C897.28,253.73 897.15,257.90 897.30,261.80 C897.45,265.70 897.67,269.60 898.10,273.50 C898.53,277.40 899.22,281.30 899.90,285.20 C900.58,289.10 901.43,293.00 902.20,296.90 C902.97,300.80 903.62,304.70 904.50,308.60 C905.38,312.50 906.42,316.40 907.50,320.30 C908.58,324.20 909.75,328.12 911.00,332.00 C912.25,335.88 914.00,340.27 915.00,343.60 C916.00,346.93 916.33,346.85 917.00,352.00 C917.67,357.15 918.75,366.50 919.00,374.50 C919.25,382.50 918.93,391.43 918.50,400.00 C918.07,408.57 917.23,419.23 916.40,425.90 C915.57,432.57 914.52,435.75 913.50,440.00 C912.48,444.25 911.68,446.10 910.30,451.40 C908.92,456.70 906.82,465.00 905.20,471.80 C903.58,478.60 901.88,486.23 900.60,492.20 C899.32,498.17 898.23,503.85 897.50,507.60 C896.77,511.35 896.42,513.52 896.20,514.70 L895.80,514.70 C895.58,513.52 895.23,511.35 894.50,507.60 C893.77,503.85 892.68,498.17 891.40,492.20 C890.12,486.23 888.42,478.60 886.80,471.80 C885.18,465.00 883.08,456.70 881.70,451.40 C880.32,446.10 879.52,444.25 878.50,440.00 C877.48,435.75 876.43,432.57 875.60,425.90 C874.77,419.23 873.93,408.57 873.50,400.00 C873.07,391.43 872.75,382.50 873.00,374.50 C873.25,366.50 874.33,357.15 875.00,352.00 C875.67,346.85 876.00,346.93 877.00,343.60 C878.00,340.27 879.75,335.88 881.00,332.00 C882.25,328.12 883.42,324.20 884.50,320.30 C885.58,316.40 886.62,312.50 887.50,308.60 C888.38,304.70 889.03,300.80 889.80,296.90 C890.57,293.00 891.42,289.10 892.10,285.20 C892.78,281.30 893.47,277.40 893.90,273.50 C894.33,269.60 894.55,265.70 894.70,261.80 C894.85,257.90 894.72,253.73 894.80,250.10 C894.88,246.47 895.13,241.68 895.20,240.00 Z" fill="#8760a6" stroke="#333" stroke-width="1.1" stroke-linejoin="round"/>
<line x1="896.00" y1="232.00" x2="896.00" y2="350.50" stroke="#333" stroke-width="1.3"/>
<line x1="896.00" y1="426.10" x2="896.00" y2="514.70" stroke="#333" stroke-width="1.3"/>
<circle cx="896.00" cy="232.00" r="2.30" fill="#666" fill-opacity="0.75"/>
<rect x="873.00" y="350.50" width="46.00" height="75.60" fill="none" stroke="#444" stroke-width="1.3"/>
<line x1="873.00" y1="388.40" x2="919.00" y2="388.40" stroke="#2d2d2d" stroke-width="2.4"/>
<rect x="934.50" y="315.40" width="46.00" height="78.20" fill="#a8c9ae"/>
<path d="M957.50,215.10 L958.50,215.10 C958.63,218.98 958.92,232.57 959.30,238.40 C959.68,244.23 960.17,246.20 960.80,250.10 C961.43,254.00 962.23,257.90 963.10,261.80 C963.97,265.70 964.73,269.60 966.00,273.50 C967.27,277.40 969.13,281.30 970.70,285.20 C972.27,289.10 974.13,293.00 975.40,296.90 C976.67,300.80 977.52,304.70 978.30,308.60 C979.08,312.50 979.65,314.47 980.10,320.30 C980.55,326.13 981.10,335.82 981.00,343.60 C980.90,351.38 980.18,360.93 979.50,367.00 C978.82,373.07 978.07,375.62 976.90,380.00 C975.73,384.38 973.82,389.13 972.50,393.30 C971.18,397.47 970.03,400.55 969.00,405.00 C967.97,409.45 967.05,414.17 966.30,420.00 C965.55,425.83 965.03,433.33 964.50,440.00 C963.97,446.67 963.57,453.33 963.10,460.00 C962.63,466.67 962.17,473.83 961.70,480.00 C961.23,486.17 960.75,492.40 960.30,497.00 C959.85,501.60 959.42,504.93 959.00,507.60 C958.58,510.27 958.00,512.10 957.80,513.00 L957.20,513.00 C957.00,512.10 956.42,510.27 956.00,507.60 C955.58,504.93 955.15,501.60 954.70,497.00 C954.25,492.40 953.77,486.17 953.30,480.00 C952.83,473.83 952.37,466.67 951.90,460.00 C951.43,453.33 951.03,446.67 950.50,440.00 C949.97,433.33 949.45,425.83 948.70,420.00 C947.95,414.17 947.03,409.45 946.00,405.00 C944.97,400.55 943.82,397.47 942.50,393.30 C941.18,389.13 939.27,384.38 938.10,380.00 C936.93,375.62 936.18,373.07 935.50,367.00 C934.82,360.93 934.10,351.38 934.00,343.60 C933.90,335.82 934.45,326.13 934.90,320.30 C935.35,314.47 935.92,312.50 936.70,308.60 C937.48,304.70 938.33,300.80 939.60,296.90 C940.87,293.00 942.73,289.10 944.30,285.20 C945.87,281.30 947.73,277.40 949.00,273.50 C950.27,269.60 951.03,265.70 951.90,261.80 C952.77,257.90 953.57,254.00 954.20,250.10 C954.83,246.20 955.32,244.23 955.70,238.40 C956.08,232.57 956.37,218.98 956.50,215.10 Z" fill="#0b9150" stroke="#333" stroke-width="1.1" stroke-linejoin="round"/>
<line x1="957.50" y1="192.90" x2="957.50" y2="315.40" stroke="#333" stroke-width="1.3"/>
<line x1="957.50" y1="393.60" x2="957.50" y2="523.90" stroke="#333" stroke-width="1.3"/>
<circle cx="957.50" cy="192.90" r="2.30" fill="#666" fill-opacity="0.75"/>
<circle cx="957.50" cy="512.00" r="2.30" fill="#666" fill-opacity="0.75"/>
<circle cx="957.50" cy="516.00" r="2.30" fill="#666" fill-opacity="0.75"/>
<circle cx="957.50" cy="520.00" r="2.30" fill="#666" fill-opacity="0.75"/>
<circle cx="957.50" cy="523.90" r="2.30" fill="#666" fill-opacity="0.75"/>
<rect x="934.50" y="315.40" width="46.00" height="78.20" fill="none" stroke="#444" stroke-width="1.3"/>
<line x1="934.50" y1="351.40" x2="980.50" y2="351.40" stroke="#2d2d2d" stroke-width="2.4"/>
<rect x="72.90" y="72.50" width="195.70" height="479.70" fill="none" stroke="#3d3d3d" stroke-width="1.3"/>
<line x1="72.30" y1="72.50" x2="269.20" y2="72.50" stroke="#3d3d3d" stroke-width="2.4"/>
<rect x="323.30" y="72.50" width="196.20" height="479.70" fill="none" stroke="#3d3d3d" stroke-width="1.3"/>
<line x1="322.70" y1="72.50" x2="520.10" y2="72.50" stroke="#3d3d3d" stroke-width="2.4"/>
<rect x="562.90" y="72.50" width="195.80" height="479.70" fill="none" stroke="#3d3d3d" stroke-width="1.3"/>
<line x1="562.30" y1="72.50" x2="759.30" y2="72.50" stroke="#3d3d3d" stroke-width="2.4"/>
<rect x="798.20" y="72.50" width="196.10" height="479.70" fill="none" stroke="#3d3d3d" stroke-width="1.3"/>
<line x1="797.60" y1="72.50" x2="994.90" y2="72.50" stroke="#3d3d3d" stroke-width="2.4"/>
<path d="M109.30,105.20 L109.30,94.70 L231.90,94.70 L231.90,105.20" fill="none" stroke="#111" stroke-width="1.7"/>
<text stroke="#111" stroke-width="0.35" x="172.55" y="99.70" font-size="26" text-anchor="middle" font-weight="bold" fill="#111" letter-spacing="2.7">****</text>
<path d="M109.30,145.70 L109.30,135.20 L170.60,135.20 L170.60,145.70" fill="none" stroke="#111" stroke-width="1.7"/>
<text stroke="#111" stroke-width="0.35" x="141.30" y="140.20" font-size="26" text-anchor="middle" font-weight="bold" fill="#111" letter-spacing="2.7">****</text>
<path d="M170.60,186.00 L170.60,175.50 L231.90,175.50 L231.90,186.00" fill="none" stroke="#111" stroke-width="1.7"/>
<text stroke="#111" stroke-width="0.35" x="202.60" y="180.50" font-size="26" text-anchor="middle" font-weight="bold" fill="#111" letter-spacing="2.7">****</text>
<line x1="109.30" y1="552.20" x2="109.30" y2="558.20" stroke="#3d3d3d" stroke-width="1.3"/>
<line x1="170.60" y1="552.20" x2="170.60" y2="558.20" stroke="#3d3d3d" stroke-width="1.3"/>
<line x1="231.90" y1="552.20" x2="231.90" y2="558.20" stroke="#3d3d3d" stroke-width="1.3"/>
<path d="M360.80,105.20 L360.80,94.70 L483.10,94.70 L483.10,105.20" fill="none" stroke="#111" stroke-width="1.7"/>
<text stroke="#111" stroke-width="0.35" x="426.90" y="99.70" font-size="26" text-anchor="middle" font-weight="bold" fill="#111" letter-spacing="2.7">****</text>
<path d="M360.80,145.70 L360.80,135.20 L421.70,135.20 L421.70,145.70" fill="none" stroke="#111" stroke-width="1.7"/>
<text stroke="#111" stroke-width="0.35" x="392.60" y="140.20" font-size="26" text-anchor="middle" font-weight="bold" fill="#111" letter-spacing="2.7">****</text>
<path d="M421.70,186.00 L421.70,175.50 L483.10,175.50 L483.10,186.00" fill="none" stroke="#111" stroke-width="1.7"/>
<text stroke="#111" stroke-width="0.35" x="453.75" y="180.50" font-size="26" text-anchor="middle" font-weight="bold" fill="#111" letter-spacing="2.7">****</text>
<line x1="360.80" y1="552.20" x2="360.80" y2="558.20" stroke="#3d3d3d" stroke-width="1.3"/>
<line x1="421.70" y1="552.20" x2="421.70" y2="558.20" stroke="#3d3d3d" stroke-width="1.3"/>
<line x1="483.10" y1="552.20" x2="483.10" y2="558.20" stroke="#3d3d3d" stroke-width="1.3"/>
<path d="M600.00,105.20 L600.00,94.70 L722.30,94.70 L722.30,105.20" fill="none" stroke="#111" stroke-width="1.7"/>
<text stroke="#111" stroke-width="0.35" x="662.70" y="99.70" font-size="26" text-anchor="middle" font-weight="bold" fill="#111" letter-spacing="2.7">****</text>
<path d="M600.00,145.70 L600.00,135.20 L661.00,135.20 L661.00,145.70" fill="none" stroke="#111" stroke-width="1.7"/>
<text stroke="#111" stroke-width="0.35" x="631.85" y="140.20" font-size="26" text-anchor="middle" font-weight="bold" fill="#111" letter-spacing="2.7">****</text>
<path d="M661.00,186.00 L661.00,175.50 L722.30,175.50 L722.30,186.00" fill="none" stroke="#111" stroke-width="1.7"/>
<text stroke="#111" stroke-width="0.35" x="693.00" y="180.50" font-size="26" text-anchor="middle" font-weight="bold" fill="#111" letter-spacing="2.7">****</text>
<line x1="600.00" y1="552.20" x2="600.00" y2="558.20" stroke="#3d3d3d" stroke-width="1.3"/>
<line x1="661.00" y1="552.20" x2="661.00" y2="558.20" stroke="#3d3d3d" stroke-width="1.3"/>
<line x1="722.30" y1="552.20" x2="722.30" y2="558.20" stroke="#3d3d3d" stroke-width="1.3"/>
<path d="M835.00,105.20 L835.00,94.70 L957.40,94.70 L957.40,105.20" fill="none" stroke="#111" stroke-width="1.7"/>
<text stroke="#111" stroke-width="0.35" x="898.85" y="99.70" font-size="26" text-anchor="middle" font-weight="bold" fill="#111" letter-spacing="2.7">****</text>
<path d="M835.00,145.70 L835.00,135.20 L896.00,135.20 L896.00,145.70" fill="none" stroke="#111" stroke-width="1.7"/>
<text stroke="#111" stroke-width="0.35" x="866.85" y="140.20" font-size="26" text-anchor="middle" font-weight="bold" fill="#111" letter-spacing="2.7">****</text>
<path d="M896.00,186.00 L896.00,175.50 L957.40,175.50 L957.40,186.00" fill="none" stroke="#111" stroke-width="1.7"/>
<text stroke="#111" stroke-width="0.35" x="928.05" y="180.50" font-size="26" text-anchor="middle" font-weight="bold" fill="#111" letter-spacing="2.7">****</text>
<line x1="835.00" y1="552.20" x2="835.00" y2="558.20" stroke="#3d3d3d" stroke-width="1.3"/>
<line x1="896.00" y1="552.20" x2="896.00" y2="558.20" stroke="#3d3d3d" stroke-width="1.3"/>
<line x1="957.40" y1="552.20" x2="957.40" y2="558.20" stroke="#3d3d3d" stroke-width="1.3"/>
<text stroke="#000" stroke-width="0.35" transform="translate(120.20,562.00) rotate(-90)" x="0" y="0" font-size="28" text-anchor="end">Single T cells</text>
<text stroke="#000" stroke-width="0.35" transform="translate(165.60,562.00) rotate(-90)" x="0" y="0" font-size="28" text-anchor="end">T cells from</text>
<text stroke="#000" stroke-width="0.35" transform="translate(189.00,562.00) rotate(-90)" x="0" y="0" font-size="28" text-anchor="end">tumor clusters</text>
<text stroke="#000" stroke-width="0.35" transform="translate(227.00,562.00) rotate(-90)" x="0" y="0" font-size="28" text-anchor="end">T cells from</text>
<text stroke="#000" stroke-width="0.35" transform="translate(250.50,562.00) rotate(-90)" x="0" y="0" font-size="28" text-anchor="end">APC clusters</text>
<text stroke="#000" stroke-width="0.35" transform="translate(361.90,562.00) rotate(-90)" x="0" y="0" font-size="28" text-anchor="end">Single T cells</text>
<text stroke="#000" stroke-width="0.35" transform="translate(408.10,562.00) rotate(-90)" x="0" y="0" font-size="28" text-anchor="end">T cells from</text>
<text stroke="#000" stroke-width="0.35" transform="translate(431.00,562.00) rotate(-90)" x="0" y="0" font-size="28" text-anchor="end">tumor clusters</text>
<text stroke="#000" stroke-width="0.35" transform="translate(469.20,562.00) rotate(-90)" x="0" y="0" font-size="28" text-anchor="end">T cells from</text>
<text stroke="#000" stroke-width="0.35" transform="translate(492.60,562.00) rotate(-90)" x="0" y="0" font-size="28" text-anchor="end">APC clusters</text>
<text stroke="#000" stroke-width="0.35" transform="translate(613.30,562.00) rotate(-90)" x="0" y="0" font-size="28" text-anchor="end">Single T cells</text>
<text stroke="#000" stroke-width="0.35" transform="translate(658.80,562.00) rotate(-90)" x="0" y="0" font-size="28" text-anchor="end">T cells from</text>
<text stroke="#000" stroke-width="0.35" transform="translate(682.40,562.00) rotate(-90)" x="0" y="0" font-size="28" text-anchor="end">tumor clusters</text>
<text stroke="#000" stroke-width="0.35" transform="translate(720.80,562.00) rotate(-90)" x="0" y="0" font-size="28" text-anchor="end">T cells from</text>
<text stroke="#000" stroke-width="0.35" transform="translate(744.20,562.00) rotate(-90)" x="0" y="0" font-size="28" text-anchor="end">APC clusters</text>
<text stroke="#000" stroke-width="0.35" transform="translate(842.80,562.00) rotate(-90)" x="0" y="0" font-size="28" text-anchor="end">Single T cells</text>
<text stroke="#000" stroke-width="0.35" transform="translate(887.40,562.00) rotate(-90)" x="0" y="0" font-size="28" text-anchor="end">T cells from</text>
<text stroke="#000" stroke-width="0.35" transform="translate(911.60,562.00) rotate(-90)" x="0" y="0" font-size="28" text-anchor="end">tumor clusters</text>
<text stroke="#000" stroke-width="0.35" transform="translate(949.60,562.00) rotate(-90)" x="0" y="0" font-size="28" text-anchor="end">T cells from</text>
<text stroke="#000" stroke-width="0.35" transform="translate(973.10,562.00) rotate(-90)" x="0" y="0" font-size="28" text-anchor="end">APC clusters</text>
<text stroke="#000" stroke-width="0.35" transform="translate(21.00,286.70) rotate(-90)" x="0" y="0" font-size="26" text-anchor="middle" textLength="388.80" lengthAdjust="spacingAndGlyphs">Average score per TCR clonotype</text>
<text stroke="#231f20" stroke-width="0.35" x="1037.60" y="45.80" font-size="63" font-weight="bold" fill="#231f20">b</text>
<rect x="1182.00" y="4.60" width="212.10" height="36.70" fill="#bebfc1" stroke="#3d3d3d" stroke-width="1.3"/>
<rect x="1394.10" y="4.60" width="637.20" height="36.70" fill="#bebfc1" stroke="#3d3d3d" stroke-width="1.3"/>
<text stroke="#1a1a1a" stroke-width="0.35" x="1288.50" y="30.60" font-size="28" text-anchor="middle" fill="#1a1a1a" textLength="171.00" lengthAdjust="spacingAndGlyphs">Virus-reactive</text>
<text stroke="#1a1a1a" stroke-width="0.35" x="1701.30" y="30.60" font-size="28" text-anchor="middle" fill="#1a1a1a">Tumor-reactive</text>
<rect x="1182.00" y="41.30" width="212.10" height="32.90" fill="#fff" stroke="#3d3d3d" stroke-width="1.3"/>
<text stroke="#111" stroke-width="0.35" x="1293.10" y="64.0" font-size="20" text-anchor="middle" fill="#111">Oliveira <tspan font-style="italic">et al.</tspan></text>
<rect x="1394.10" y="41.30" width="212.30" height="32.90" fill="#fff" stroke="#3d3d3d" stroke-width="1.3"/>
<text stroke="#111" stroke-width="0.35" x="1504.70" y="64.0" font-size="20" text-anchor="middle" fill="#111">Oliveira <tspan font-style="italic">et al.</tspan></text>
<rect x="1606.40" y="41.30" width="213.20" height="32.90" fill="#fff" stroke="#3d3d3d" stroke-width="1.3"/>
<text stroke="#111" stroke-width="0.35" x="1710.80" y="64.0" font-size="20" text-anchor="middle" fill="#111">Lowery <tspan font-style="italic">et al.</tspan></text>
<rect x="1819.60" y="41.30" width="211.70" height="32.90" fill="#fff" stroke="#3d3d3d" stroke-width="1.3"/>
<text stroke="#111" stroke-width="0.35" x="1930.90" y="64.0" font-size="20" text-anchor="middle" fill="#111">Meng <tspan font-style="italic">et al.</tspan></text>
<rect x="1182.00" y="74.20" width="212.10" height="48.23" fill="#fdeee9"/>
<rect x="1394.10" y="74.20" width="212.30" height="48.23" fill="#f9c5b2"/>
<rect x="1606.40" y="74.20" width="213.20" height="48.23" fill="#fdd5c7"/>
<rect x="1819.60" y="74.20" width="211.70" height="48.23" fill="#fac4b0"/>
<rect x="1099.70" y="74.20" width="36.00" height="48.23" fill="#86c5c2"/>
<rect x="1138.80" y="74.20" width="36.00" height="48.23" fill="#825aa3"/>
<rect x="1182.00" y="122.13" width="212.10" height="48.23" fill="#eee8f5"/>
<rect x="1394.10" y="122.13" width="212.30" height="48.23" fill="#ee4630"/>
<rect x="1606.40" y="122.13" width="213.20" height="48.23" fill="#f8a487"/>
<rect x="1819.60" y="122.13" width="211.70" height="48.23" fill="#f58a6c"/>
<rect x="1099.70" y="122.13" width="36.00" height="48.23" fill="#86c5c2"/>
<rect x="1138.80" y="122.13" width="36.00" height="48.23" fill="#00934f"/>
<rect x="1182.00" y="170.06" width="212.10" height="48.23" fill="#ddd0e8"/>
<rect x="1394.10" y="170.06" width="212.30" height="48.23" fill="#fcd2c4"/>
<rect x="1606.40" y="170.06" width="213.20" height="48.23" fill="#fdeee9"/>
<rect x="1819.60" y="170.06" width="211.70" height="48.23" fill="#fdeee9"/>
<rect x="1099.70" y="170.06" width="36.00" height="48.23" fill="#3c5189"/>
<rect x="1138.80" y="170.06" width="36.00" height="48.23" fill="#825aa3"/>
<rect x="1182.00" y="217.99" width="212.10" height="48.23" fill="#a38bc3"/>
<rect x="1394.10" y="217.99" width="212.30" height="48.23" fill="#f58e72"/>
<rect x="1606.40" y="217.99" width="213.20" height="48.23" fill="#fcd5c7"/>
<rect x="1819.60" y="217.99" width="211.70" height="48.23" fill="#fcd6c9"/>
<rect x="1099.70" y="217.99" width="36.00" height="48.23" fill="#3c5189"/>
<rect x="1138.80" y="217.99" width="36.00" height="48.23" fill="#00934f"/>
<rect x="1182.00" y="265.92" width="212.10" height="48.23" fill="#8c6eb1"/>
<rect x="1394.10" y="265.92" width="212.30" height="48.23" fill="#ef4a2f"/>
<rect x="1606.40" y="265.92" width="213.20" height="48.23" fill="#f9b29a"/>
<rect x="1819.60" y="265.92" width="211.70" height="48.23" fill="#f9b19a"/>
<rect x="1099.70" y="265.92" width="36.00" height="48.23" fill="#ed2a7b"/>
<rect x="1138.80" y="265.92" width="36.00" height="48.23" fill="#825aa3"/>
<rect x="1182.00" y="313.85" width="212.10" height="48.23" fill="#8064ad"/>
<rect x="1394.10" y="313.85" width="212.30" height="48.23" fill="#ec1c24"/>
<rect x="1606.40" y="313.85" width="213.20" height="48.23" fill="#f8a88d"/>
<rect x="1819.60" y="313.85" width="211.70" height="48.23" fill="#f79b7f"/>
<rect x="1099.70" y="313.85" width="36.00" height="48.23" fill="#ed2a7b"/>
<rect x="1138.80" y="313.85" width="36.00" height="48.23" fill="#00934f"/>
<rect x="1182.00" y="361.78" width="212.10" height="48.23" fill="#fdf9f8"/>
<rect x="1394.10" y="361.78" width="212.30" height="48.23" fill="#f5f3fa"/>
<rect x="1606.40" y="361.78" width="213.20" height="48.23" fill="#fffbfa"/>
<rect x="1819.60" y="361.78" width="211.70" height="48.23" fill="#fffbfa"/>
<rect x="1099.70" y="361.78" width="36.00" height="48.23" fill="#6abf63"/>
<rect x="1138.80" y="361.78" width="36.00" height="48.23" fill="#825aa3"/>
<rect x="1182.00" y="409.71" width="212.10" height="48.23" fill="#775ba6"/>
<rect x="1394.10" y="409.71" width="212.30" height="48.23" fill="#f16d51"/>
<rect x="1606.40" y="409.71" width="213.20" height="48.23" fill="#fbbfa9"/>
<rect x="1819.60" y="409.71" width="211.70" height="48.23" fill="#f9b39b"/>
<rect x="1099.70" y="409.71" width="36.00" height="48.23" fill="#6abf63"/>
<rect x="1138.80" y="409.71" width="36.00" height="48.23" fill="#00934f"/>
<rect x="1182.00" y="457.64" width="212.10" height="48.23" fill="#a18ac2"/>
<rect x="1394.10" y="457.64" width="212.30" height="48.23" fill="#f0563a"/>
<rect x="1606.40" y="457.64" width="213.20" height="48.23" fill="#f9b49c"/>
<rect x="1819.60" y="457.64" width="211.70" height="48.23" fill="#f9b39b"/>
<rect x="1099.70" y="457.64" width="36.00" height="48.23" fill="#f9ae3f"/>
<rect x="1138.80" y="457.64" width="36.00" height="48.23" fill="#825aa3"/>
<rect x="1182.00" y="505.57" width="212.10" height="48.23" fill="#8a6fb1"/>
<rect x="1394.10" y="505.57" width="212.30" height="48.23" fill="#d81e26"/>
<rect x="1606.40" y="505.57" width="213.20" height="48.23" fill="#f79c7f"/>
<rect x="1819.60" y="505.57" width="211.70" height="48.23" fill="#f58a6d"/>
<rect x="1099.70" y="505.57" width="36.00" height="48.23" fill="#f9ae3f"/>
<rect x="1138.80" y="505.57" width="36.00" height="48.23" fill="#00934f"/>
<text stroke="#111" stroke-width="0.35" x="1714.00" y="104.30" font-size="26" text-anchor="middle" font-weight="bold" fill="#111" letter-spacing="2.0">****</text>
<text stroke="#111" stroke-width="0.35" x="1926.45" y="104.30" font-size="26" text-anchor="middle" font-weight="bold" fill="#111" letter-spacing="2.0">****</text>
<text stroke="#111" stroke-width="0.35" x="1288.05" y="152.73" font-size="26" text-anchor="middle" font-weight="bold" fill="#111">*</text>
<text stroke="#111" stroke-width="0.35" x="1501.25" y="152.23" font-size="26" text-anchor="middle" font-weight="bold" fill="#111" letter-spacing="2.0">****</text>
<text stroke="#111" stroke-width="0.35" x="1714.00" y="152.23" font-size="26" text-anchor="middle" font-weight="bold" fill="#111" letter-spacing="2.0">****</text>
<text stroke="#111" stroke-width="0.35" x="1926.45" y="152.23" font-size="26" text-anchor="middle" font-weight="bold" fill="#111" letter-spacing="2.0">****</text>
<text stroke="#111" stroke-width="0.35" x="1289.05" y="200.16" font-size="26" text-anchor="middle" font-weight="bold" fill="#111" letter-spacing="2.0">****</text>
<text stroke="#111" stroke-width="0.35" x="1501.25" y="200.16" font-size="26" text-anchor="middle" font-weight="bold" fill="#111" letter-spacing="2.0">****</text>
<text stroke="#111" stroke-width="0.35" x="1714.00" y="200.16" font-size="26" text-anchor="middle" font-weight="bold" fill="#111" letter-spacing="2.0">****</text>
<text stroke="#111" stroke-width="0.35" x="1926.45" y="200.16" font-size="26" text-anchor="middle" font-weight="bold" fill="#111" letter-spacing="2.0">****</text>
<text stroke="#111" stroke-width="0.35" x="1289.05" y="248.09" font-size="26" text-anchor="middle" font-weight="bold" fill="#111" letter-spacing="2.0">****</text>
<text stroke="#111" stroke-width="0.35" x="1501.25" y="248.09" font-size="26" text-anchor="middle" font-weight="bold" fill="#111" letter-spacing="2.0">****</text>
<text stroke="#111" stroke-width="0.35" x="1714.00" y="248.09" font-size="26" text-anchor="middle" font-weight="bold" fill="#111" letter-spacing="2.0">****</text>
<text stroke="#111" stroke-width="0.35" x="1926.45" y="248.09" font-size="26" text-anchor="middle" font-weight="bold" fill="#111" letter-spacing="2.0">****</text>
<text stroke="#111" stroke-width="0.35" x="1289.05" y="296.02" font-size="26" text-anchor="middle" font-weight="bold" fill="#111" letter-spacing="2.0">****</text>
<text stroke="#111" stroke-width="0.35" x="1501.25" y="296.02" font-size="26" text-anchor="middle" font-weight="bold" fill="#111" letter-spacing="2.0">****</text>
<text stroke="#111" stroke-width="0.35" x="1714.00" y="296.02" font-size="26" text-anchor="middle" font-weight="bold" fill="#111" letter-spacing="2.0">****</text>
<text stroke="#111" stroke-width="0.35" x="1926.45" y="296.02" font-size="26" text-anchor="middle" font-weight="bold" fill="#111" letter-spacing="2.0">****</text>
<text stroke="#111" stroke-width="0.35" x="1289.05" y="343.95" font-size="26" text-anchor="middle" font-weight="bold" fill="#111" letter-spacing="2.0">****</text>
<text stroke="#111" stroke-width="0.35" x="1501.25" y="343.95" font-size="26" text-anchor="middle" font-weight="bold" fill="#111" letter-spacing="2.0">****</text>
<text stroke="#111" stroke-width="0.35" x="1714.00" y="343.95" font-size="26" text-anchor="middle" font-weight="bold" fill="#111" letter-spacing="2.0">****</text>
<text stroke="#111" stroke-width="0.35" x="1926.45" y="343.95" font-size="26" text-anchor="middle" font-weight="bold" fill="#111" letter-spacing="2.0">****</text>
<text stroke="#111" stroke-width="0.35" x="1289.05" y="439.81" font-size="26" text-anchor="middle" font-weight="bold" fill="#111" letter-spacing="2.0">****</text>
<text stroke="#111" stroke-width="0.35" x="1501.25" y="439.81" font-size="26" text-anchor="middle" font-weight="bold" fill="#111" letter-spacing="2.0">****</text>
<text stroke="#111" stroke-width="0.35" x="1714.00" y="439.81" font-size="26" text-anchor="middle" font-weight="bold" fill="#111" letter-spacing="2.0">****</text>
<text stroke="#111" stroke-width="0.35" x="1926.45" y="439.81" font-size="26" text-anchor="middle" font-weight="bold" fill="#111" letter-spacing="2.0">****</text>
<text stroke="#111" stroke-width="0.35" x="1289.05" y="487.74" font-size="26" text-anchor="middle" font-weight="bold" fill="#111" letter-spacing="2.0">****</text>
<text stroke="#111" stroke-width="0.35" x="1501.25" y="487.74" font-size="26" text-anchor="middle" font-weight="bold" fill="#111" letter-spacing="2.0">****</text>
<text stroke="#111" stroke-width="0.35" x="1714.00" y="487.74" font-size="26" text-anchor="middle" font-weight="bold" fill="#111" letter-spacing="2.0">****</text>
<text stroke="#111" stroke-width="0.35" x="1926.45" y="487.74" font-size="26" text-anchor="middle" font-weight="bold" fill="#111" letter-spacing="2.0">****</text>
<text stroke="#111" stroke-width="0.35" x="1289.05" y="535.67" font-size="26" text-anchor="middle" font-weight="bold" fill="#111" letter-spacing="2.0">****</text>
<text stroke="#111" stroke-width="0.35" x="1501.25" y="535.67" font-size="26" text-anchor="middle" font-weight="bold" fill="#111" letter-spacing="2.0">****</text>
<text stroke="#111" stroke-width="0.35" x="1714.00" y="535.67" font-size="26" text-anchor="middle" font-weight="bold" fill="#111" letter-spacing="2.0">****</text>
<text stroke="#111" stroke-width="0.35" x="1926.45" y="535.67" font-size="26" text-anchor="middle" font-weight="bold" fill="#111" letter-spacing="2.0">****</text>
<text stroke="#111" stroke-width="0.35" x="2046.30" y="110.80" font-size="28" fill="#111">Patient ID</text>
<circle cx="2063.00" cy="138.70" r="10.20" fill="#86c5c2"/>
<text stroke="#111" stroke-width="0.35" x="2086.00" y="148.70" font-size="27" fill="#111">P1</text>
<circle cx="2063.00" cy="169.55" r="10.20" fill="#3c5189"/>
<text stroke="#111" stroke-width="0.35" x="2086.00" y="179.55" font-size="27" fill="#111">P2</text>
<circle cx="2063.00" cy="200.40" r="10.20" fill="#ed2a7b"/>
<text stroke="#111" stroke-width="0.35" x="2086.00" y="210.40" font-size="27" fill="#111">P8</text>
<circle cx="2063.00" cy="231.25" r="10.20" fill="#6abf63"/>
<text stroke="#111" stroke-width="0.35" x="2086.00" y="241.25" font-size="27" fill="#111">P9</text>
<circle cx="2063.00" cy="262.10" r="10.20" fill="#f9ae3f"/>
<text stroke="#111" stroke-width="0.35" x="2086.00" y="272.10" font-size="27" fill="#111">P15</text>
<text stroke="#111" stroke-width="0.35" x="2050.50" y="351.20" font-size="28" fill="#111">Log2FC</text>
<defs><linearGradient id="gfc" x1="0" y1="0" x2="0" y2="1"><stop offset="0" stop-color="#861a1c"/><stop offset="0.15" stop-color="#901b1e"/><stop offset="0.25" stop-color="#e4141c"/><stop offset="0.27" stop-color="#ea1c1f"/><stop offset="0.30" stop-color="#ee452b"/><stop offset="0.38" stop-color="#f28a6c"/><stop offset="0.45" stop-color="#f9cfc0"/><stop offset="0.5" stop-color="#ffffff"/><stop offset="0.55" stop-color="#e9e3f0"/><stop offset="0.63" stop-color="#b3a4cf"/><stop offset="0.70" stop-color="#7660aa"/><stop offset="0.74" stop-color="#4a3696"/><stop offset="0.80" stop-color="#302c89"/><stop offset="1" stop-color="#2b2f85"/></linearGradient><linearGradient id="gov" x1="0" y1="0" x2="0" y2="1"><stop offset="0" stop-color="#8b1519"/><stop offset="0.2" stop-color="#a33327"/><stop offset="0.6" stop-color="#d2766c"/><stop offset="0.8" stop-color="#eea29d"/><stop offset="1" stop-color="#f8b9bb"/></linearGradient></defs>
<rect x="2048.50" y="367.80" width="36.50" height="183.60" fill="url(#gfc)"/>
<line x1="2048.50" y1="374.60" x2="2057.20" y2="374.60" stroke="#fff" stroke-width="2.0"/>
<line x1="2076.30" y1="374.60" x2="2085.00" y2="374.60" stroke="#fff" stroke-width="2.0"/>
<line x1="2048.50" y1="417.20" x2="2057.20" y2="417.20" stroke="#fff" stroke-width="2.0"/>
<line x1="2076.30" y1="417.20" x2="2085.00" y2="417.20" stroke="#fff" stroke-width="2.0"/>
<line x1="2048.50" y1="459.70" x2="2057.20" y2="459.70" stroke="#fff" stroke-width="2.0"/>
<line x1="2076.30" y1="459.70" x2="2085.00" y2="459.70" stroke="#fff" stroke-width="2.0"/>
<line x1="2048.50" y1="502.10" x2="2057.20" y2="502.10" stroke="#fff" stroke-width="2.0"/>
<line x1="2076.30" y1="502.10" x2="2085.00" y2="502.10" stroke="#fff" stroke-width="2.0"/>
<line x1="2048.50" y1="544.70" x2="2057.20" y2="544.70" stroke="#fff" stroke-width="2.0"/>
<line x1="2076.30" y1="544.70" x2="2085.00" y2="544.70" stroke="#fff" stroke-width="2.0"/>
<text stroke="#111" stroke-width="0.35" x="2093.50" y="385.10" font-size="26" fill="#111" textLength="40.10" lengthAdjust="spacingAndGlyphs">1.5</text>
<text stroke="#111" stroke-width="0.35" x="2093.50" y="427.70" font-size="26" fill="#111">1</text>
<text stroke="#111" stroke-width="0.35" x="2093.50" y="470.20" font-size="26" fill="#111">0</text>
<text stroke="#111" stroke-width="0.35" x="2093.50" y="512.60" font-size="26" fill="#111">−1</text>
<text stroke="#111" stroke-width="0.35" x="2093.50" y="555.20" font-size="26" fill="#111" textLength="54.60" lengthAdjust="spacingAndGlyphs">−1.5</text>
<circle cx="1229.20" cy="602.80" r="14.60" fill="#8a5fa8"/>
<text stroke="#111" stroke-width="0.35" x="1247.50" y="608.30" font-size="28" fill="#111" textLength="328.50" lengthAdjust="spacingAndGlyphs">T cells from tumor clusters</text>
<text stroke="#111" stroke-width="0.35" x="1256.00" y="631.80" font-size="28" fill="#111">vs single T cells</text>
<circle cx="1633.30" cy="602.80" r="14.60" fill="#0b9150"/>
<text stroke="#111" stroke-width="0.35" x="1659.40" y="608.30" font-size="28" fill="#111" textLength="314.40" lengthAdjust="spacingAndGlyphs">T cells from APC clusters</text>
<text stroke="#111" stroke-width="0.35" x="1666.90" y="631.80" font-size="28" fill="#111">vs single T cells</text>
<text stroke="#231f20" stroke-width="0.35" x="2.90" y="850.40" font-size="63" font-weight="bold" fill="#231f20">c</text>
<rect x="511.40" y="812.10" width="1164.20" height="86.50" fill="#d8e8f7"/>
<rect x="511.40" y="898.60" width="38.81" height="86.50" fill="#d8e8f7"/>
<rect x="589.01" y="898.60" width="116.42" height="86.50" fill="#d8e8f7"/>
<rect x="860.66" y="898.60" width="38.81" height="86.50" fill="#d8e8f7"/>
<rect x="938.27" y="898.60" width="38.81" height="86.50" fill="#d8e8f7"/>
<rect x="1015.89" y="898.60" width="38.81" height="86.50" fill="#d8e8f7"/>
<rect x="1248.73" y="898.60" width="38.81" height="86.50" fill="#d8e8f7"/>
<rect x="1520.37" y="898.60" width="77.61" height="86.50" fill="#d8e8f7"/>
<rect x="589.01" y="985.10" width="38.81" height="86.50" fill="#d8e8f7"/>
<rect x="705.43" y="985.10" width="38.81" height="86.50" fill="#d8e8f7"/>
<rect x="821.85" y="985.10" width="77.61" height="86.50" fill="#d8e8f7"/>
<rect x="938.27" y="985.10" width="38.81" height="86.50" fill="#d8e8f7"/>
<rect x="1015.89" y="985.10" width="38.81" height="86.50" fill="#d8e8f7"/>
<rect x="1481.57" y="985.10" width="116.42" height="86.50" fill="#d8e8f7"/>
<rect x="1636.79" y="985.10" width="38.81" height="86.50" fill="#d8e8f7"/>
<rect x="550.21" y="1071.60" width="232.84" height="86.50" fill="#d8e8f7"/>
<rect x="821.85" y="1071.60" width="155.23" height="86.50" fill="#d8e8f7"/>
<rect x="1015.89" y="1071.60" width="77.61" height="86.50" fill="#d8e8f7"/>
<rect x="1209.92" y="1071.60" width="155.23" height="86.50" fill="#d8e8f7"/>
<rect x="1442.76" y="1071.60" width="116.42" height="86.50" fill="#d8e8f7"/>
<rect x="1636.79" y="1071.60" width="38.81" height="86.50" fill="#d8e8f7"/>
<rect x="507.50" y="803.70" width="1172.50" height="362.80" fill="none" stroke="#3d3d3d" stroke-width="1.3"/>
<line x1="498.20" y1="855.35" x2="507.50" y2="855.35" stroke="#3d3d3d" stroke-width="1.3"/>
<text stroke="#000" stroke-width="0.35" x="484.00" y="862.05" font-size="28" text-anchor="end">Cluster signature top 30</text>
<line x1="498.20" y1="941.85" x2="507.50" y2="941.85" stroke="#3d3d3d" stroke-width="1.3"/>
<text stroke="#000" stroke-width="0.35" x="486.6" y="948.55" font-size="28" text-anchor="end">Oliveira <tspan font-style="italic">et al.</tspan></text>
<line x1="498.20" y1="1028.35" x2="507.50" y2="1028.35" stroke="#3d3d3d" stroke-width="1.3"/>
<text stroke="#000" stroke-width="0.35" x="486.6" y="1035.05" font-size="28" text-anchor="end">Lowery <tspan font-style="italic">et al.</tspan></text>
<line x1="498.20" y1="1114.85" x2="507.50" y2="1114.85" stroke="#3d3d3d" stroke-width="1.3"/>
<text stroke="#000" stroke-width="0.35" x="486.6" y="1121.55" font-size="28" text-anchor="end">Meng <tspan font-style="italic">et al.</tspan></text>
<line x1="530.80" y1="1166.50" x2="530.80" y2="1175.40" stroke="#3d3d3d" stroke-width="1.3"/>
<text stroke="#000" stroke-width="0.35" transform="translate(541.50,1186.70) rotate(-90)" x="0" y="0" font-size="27.6" text-anchor="end">HIPK2</text>
<line x1="569.61" y1="1166.50" x2="569.61" y2="1175.40" stroke="#3d3d3d" stroke-width="1.3"/>
<text stroke="#000" stroke-width="0.35" transform="translate(580.31,1186.70) rotate(-90)" x="0" y="0" font-size="27.6" text-anchor="end">CRTAM</text>
<line x1="608.42" y1="1166.50" x2="608.42" y2="1175.40" stroke="#3d3d3d" stroke-width="1.3"/>
<text stroke="#000" stroke-width="0.35" transform="translate(619.12,1186.70) rotate(-90)" x="0" y="0" font-size="27.6" text-anchor="end">CXCL13</text>
<line x1="647.22" y1="1166.50" x2="647.22" y2="1175.40" stroke="#3d3d3d" stroke-width="1.3"/>
<text stroke="#000" stroke-width="0.35" transform="translate(657.92,1186.70) rotate(-90)" x="0" y="0" font-size="27.6" text-anchor="end">VCAM1</text>
<line x1="686.03" y1="1166.50" x2="686.03" y2="1175.40" stroke="#3d3d3d" stroke-width="1.3"/>
<text stroke="#000" stroke-width="0.35" transform="translate(696.73,1186.70) rotate(-90)" x="0" y="0" font-size="27.6" text-anchor="end">CTLA4</text>
<line x1="724.84" y1="1166.50" x2="724.84" y2="1175.40" stroke="#3d3d3d" stroke-width="1.3"/>
<text stroke="#000" stroke-width="0.35" transform="translate(735.54,1186.70) rotate(-90)" x="0" y="0" font-size="27.6" text-anchor="end">GZMB</text>
<line x1="763.64" y1="1166.50" x2="763.64" y2="1175.40" stroke="#3d3d3d" stroke-width="1.3"/>
<text stroke="#000" stroke-width="0.35" transform="translate(774.34,1186.70) rotate(-90)" x="0" y="0" font-size="27.6" text-anchor="end">TNFRSF9</text>
<line x1="802.45" y1="1166.50" x2="802.45" y2="1175.40" stroke="#3d3d3d" stroke-width="1.3"/>
<text stroke="#000" stroke-width="0.35" transform="translate(813.15,1186.70) rotate(-90)" x="0" y="0" font-size="27.6" text-anchor="end">SNX9</text>
<line x1="841.26" y1="1166.50" x2="841.26" y2="1175.40" stroke="#3d3d3d" stroke-width="1.3"/>
<text stroke="#000" stroke-width="0.35" transform="translate(851.96,1186.70) rotate(-90)" x="0" y="0" font-size="27.6" text-anchor="end">DUSP4</text>
<line x1="880.06" y1="1166.50" x2="880.06" y2="1175.40" stroke="#3d3d3d" stroke-width="1.3"/>
<text stroke="#000" stroke-width="0.35" transform="translate(890.76,1186.70) rotate(-90)" x="0" y="0" font-size="27.6" text-anchor="end">LAG3</text>
<line x1="918.87" y1="1166.50" x2="918.87" y2="1175.40" stroke="#3d3d3d" stroke-width="1.3"/>
<text stroke="#000" stroke-width="0.35" transform="translate(929.57,1186.70) rotate(-90)" x="0" y="0" font-size="27.6" text-anchor="end">KLRD1</text>
<line x1="957.68" y1="1166.50" x2="957.68" y2="1175.40" stroke="#3d3d3d" stroke-width="1.3"/>
<text stroke="#000" stroke-width="0.35" transform="translate(968.38,1186.70) rotate(-90)" x="0" y="0" font-size="27.6" text-anchor="end">ENTPD1</text>
<line x1="996.48" y1="1166.50" x2="996.48" y2="1175.40" stroke="#3d3d3d" stroke-width="1.3"/>
<text stroke="#000" stroke-width="0.35" transform="translate(1007.18,1186.70) rotate(-90)" x="0" y="0" font-size="27.6" text-anchor="end">ITM2A</text>
<line x1="1035.29" y1="1166.50" x2="1035.29" y2="1175.40" stroke="#3d3d3d" stroke-width="1.3"/>
<text stroke="#000" stroke-width="0.35" transform="translate(1045.99,1186.70) rotate(-90)" x="0" y="0" font-size="27.6" text-anchor="end">PRF1</text>
<line x1="1074.10" y1="1166.50" x2="1074.10" y2="1175.40" stroke="#3d3d3d" stroke-width="1.3"/>
<text stroke="#000" stroke-width="0.35" transform="translate(1084.80,1186.70) rotate(-90)" x="0" y="0" font-size="27.6" text-anchor="end">FABP5</text>
<line x1="1112.90" y1="1166.50" x2="1112.90" y2="1175.40" stroke="#3d3d3d" stroke-width="1.3"/>
<text stroke="#000" stroke-width="0.35" transform="translate(1123.60,1186.70) rotate(-90)" x="0" y="0" font-size="27.6" text-anchor="end">CBLB</text>
<line x1="1151.71" y1="1166.50" x2="1151.71" y2="1175.40" stroke="#3d3d3d" stroke-width="1.3"/>
<text stroke="#000" stroke-width="0.35" transform="translate(1162.41,1186.70) rotate(-90)" x="0" y="0" font-size="27.6" text-anchor="end">PRDM1</text>
<line x1="1190.52" y1="1166.50" x2="1190.52" y2="1175.40" stroke="#3d3d3d" stroke-width="1.3"/>
<text stroke="#000" stroke-width="0.35" transform="translate(1201.22,1186.70) rotate(-90)" x="0" y="0" font-size="27.6" text-anchor="end">PDE7B</text>
<line x1="1229.32" y1="1166.50" x2="1229.32" y2="1175.40" stroke="#3d3d3d" stroke-width="1.3"/>
<text stroke="#000" stroke-width="0.35" transform="translate(1240.02,1186.70) rotate(-90)" x="0" y="0" font-size="27.6" text-anchor="end">AHI1</text>
<line x1="1268.13" y1="1166.50" x2="1268.13" y2="1175.40" stroke="#3d3d3d" stroke-width="1.3"/>
<text stroke="#000" stroke-width="0.35" transform="translate(1278.83,1186.70) rotate(-90)" x="0" y="0" font-size="27.6" text-anchor="end">HAVCR2</text>
<line x1="1306.94" y1="1166.50" x2="1306.94" y2="1175.40" stroke="#3d3d3d" stroke-width="1.3"/>
<text stroke="#000" stroke-width="0.35" transform="translate(1317.64,1186.70) rotate(-90)" x="0" y="0" font-size="27.6" text-anchor="end">ATP8B4</text>
<line x1="1345.74" y1="1166.50" x2="1345.74" y2="1175.40" stroke="#3d3d3d" stroke-width="1.3"/>
<text stroke="#000" stroke-width="0.35" transform="translate(1356.44,1186.70) rotate(-90)" x="0" y="0" font-size="27.6" text-anchor="end">NAB1</text>
<line x1="1384.55" y1="1166.50" x2="1384.55" y2="1175.40" stroke="#3d3d3d" stroke-width="1.3"/>
<text stroke="#000" stroke-width="0.35" transform="translate(1395.25,1186.70) rotate(-90)" x="0" y="0" font-size="27.6" text-anchor="end">DGKH</text>
<line x1="1423.36" y1="1166.50" x2="1423.36" y2="1175.40" stroke="#3d3d3d" stroke-width="1.3"/>
<text stroke="#000" stroke-width="0.35" transform="translate(1434.06,1186.70) rotate(-90)" x="0" y="0" font-size="27.6" text-anchor="end">METRNL</text>
<line x1="1462.16" y1="1166.50" x2="1462.16" y2="1175.40" stroke="#3d3d3d" stroke-width="1.3"/>
<text stroke="#000" stroke-width="0.35" transform="translate(1472.86,1186.70) rotate(-90)" x="0" y="0" font-size="27.6" text-anchor="end">SIRPG</text>
<line x1="1500.97" y1="1166.50" x2="1500.97" y2="1175.40" stroke="#3d3d3d" stroke-width="1.3"/>
<text stroke="#000" stroke-width="0.35" transform="translate(1511.67,1186.70) rotate(-90)" x="0" y="0" font-size="27.6" text-anchor="end">TIGIT</text>
<line x1="1539.78" y1="1166.50" x2="1539.78" y2="1175.40" stroke="#3d3d3d" stroke-width="1.3"/>
<text stroke="#000" stroke-width="0.35" transform="translate(1550.48,1186.70) rotate(-90)" x="0" y="0" font-size="27.6" text-anchor="end">IGFLR1</text>
<line x1="1578.58" y1="1166.50" x2="1578.58" y2="1175.40" stroke="#3d3d3d" stroke-width="1.3"/>
<text stroke="#000" stroke-width="0.35" transform="translate(1589.28,1186.70) rotate(-90)" x="0" y="0" font-size="27.6" text-anchor="end">HOPX</text>
<line x1="1617.39" y1="1166.50" x2="1617.39" y2="1175.40" stroke="#3d3d3d" stroke-width="1.3"/>
<text stroke="#000" stroke-width="0.35" transform="translate(1628.09,1186.70) rotate(-90)" x="0" y="0" font-size="27.6" text-anchor="end">PAM</text>
<line x1="1656.20" y1="1166.50" x2="1656.20" y2="1175.40" stroke="#3d3d3d" stroke-width="1.3"/>
<text stroke="#000" stroke-width="0.35" transform="translate(1666.90,1186.70) rotate(-90)" x="0" y="0" font-size="27.6" text-anchor="end">LYST</text>
<text stroke="#000" stroke-width="0.35" x="1755.90" y="942.00" font-size="28">Presence of gene</text>
<rect x="1758.50" y="955.00" width="29.20" height="28.70" fill="#d8e8f7"/>
<text stroke="#000" stroke-width="0.35" x="1797.20" y="978.00" font-size="28">YES</text>
<rect x="1758.90" y="992.60" width="28.40" height="28.30" fill="#fff" stroke="#b5b5b5" stroke-width="1.0"/>
<text stroke="#000" stroke-width="0.35" x="1800.80" y="1017.40" font-size="28">NO</text>
<text stroke="#231f20" stroke-width="0.35" x="3.00" y="1416.20" font-size="63" font-weight="bold" fill="#231f20" textLength="39.00" lengthAdjust="spacingAndGlyphs">d</text>
<rect x="642.00" y="1439.50" width="202.64" height="46.60" fill="#a33327"/>
<line x1="623.70" y1="1462.80" x2="631.80" y2="1462.80" stroke="#3d3d3d" stroke-width="1.3"/>
<text stroke="#000" stroke-width="0.35" x="616.80" y="1471.90" font-size="28.2" text-anchor="end" xml:space="preserve">Regulation of T cell activation (207)</text>
<rect x="642.00" y="1491.40" width="202.64" height="46.60" fill="#8b1519"/>
<line x1="623.70" y1="1514.70" x2="631.80" y2="1514.70" stroke="#3d3d3d" stroke-width="1.3"/>
<text stroke="#000" stroke-width="0.35" x="616.80" y="1523.80" font-size="28.2" text-anchor="end" xml:space="preserve">Regulation of lymphocyte activation (272)</text>
<rect x="642.00" y="1543.30" width="191.61" height="46.60" fill="#e99791"/>
<line x1="623.70" y1="1566.60" x2="631.80" y2="1566.60" stroke="#3d3d3d" stroke-width="1.3"/>
<text stroke="#000" stroke-width="0.35" x="616.80" y="1575.70" font-size="28.2" text-anchor="end" xml:space="preserve">Leukocyte mediated cytotoxicity (77)</text>
<rect x="642.00" y="1595.20" width="174.15" height="46.60" fill="#f8b8ba"/>
<line x1="623.70" y1="1618.50" x2="631.80" y2="1618.50" stroke="#3d3d3d" stroke-width="1.3"/>
<text stroke="#000" stroke-width="0.35" x="616.80" y="1627.60" font-size="28.2" text-anchor="end" xml:space="preserve">Natural killer cell mediated immunity (55)</text>
<rect x="642.00" y="1647.10" width="174.15" height="46.60" fill="#e99791"/>
<line x1="623.70" y1="1670.40" x2="631.80" y2="1670.40" stroke="#3d3d3d" stroke-width="1.3"/>
<text stroke="#000" stroke-width="0.35" x="616.80" y="1679.50" font-size="28.2" text-anchor="end" xml:space="preserve">Cell killing (94)</text>
<rect x="642.00" y="1699.00" width="168.18" height="46.60" fill="#f8b8ba"/>
<line x1="623.70" y1="1722.30" x2="631.80" y2="1722.30" stroke="#3d3d3d" stroke-width="1.3"/>
<text stroke="#000" stroke-width="0.35" x="616.80" y="1713.60" font-size="28.2" text-anchor="end">Negative regulation of leukocyte</text>
<text stroke="#000" stroke-width="0.35" x="616.80" y="1744.00" font-size="28.2" text-anchor="end">cell cell adhesion (61)</text>
<rect x="642.00" y="1750.90" width="162.20" height="46.60" fill="#c05a4c"/>
<line x1="623.70" y1="1774.20" x2="631.80" y2="1774.20" stroke="#3d3d3d" stroke-width="1.3"/>
<text stroke="#000" stroke-width="0.35" x="616.80" y="1783.30" font-size="28.2" text-anchor="end" xml:space="preserve">Regulation of cell cell adhesion (222)</text>
<rect x="642.00" y="1802.80" width="155.77" height="46.60" fill="#f7b6b7"/>
<line x1="623.70" y1="1826.10" x2="631.80" y2="1826.10" stroke="#3d3d3d" stroke-width="1.3"/>
<text stroke="#000" stroke-width="0.35" x="619.20" y="1835.20" font-size="28.2" text-anchor="end" textLength="605.50" lengthAdjust="spacingAndGlyphs">Negative regulation of lymphocyte activation (71)</text>
<rect x="642.00" y="1854.70" width="146.58" height="46.60" fill="#f7b6b7"/>
<line x1="623.70" y1="1878.00" x2="631.80" y2="1878.00" stroke="#3d3d3d" stroke-width="1.3"/>
<text stroke="#000" stroke-width="0.35" x="616.80" y="1887.10" font-size="28.2" text-anchor="end" xml:space="preserve">Negative regulation of cell cell adhesion (78) </text>
<rect x="642.00" y="1906.60" width="143.82" height="46.60" fill="#f7b6b7"/>
<line x1="623.70" y1="1929.90" x2="631.80" y2="1929.90" stroke="#3d3d3d" stroke-width="1.3"/>
<text stroke="#000" stroke-width="0.35" x="616.80" y="1939.00" font-size="28.2" text-anchor="end" xml:space="preserve">Regulation of T cell proliferation (82)</text>
<rect x="631.80" y="1431.60" width="223.60" height="529.20" fill="none" stroke="#3d3d3d" stroke-width="1.3"/>
<line x1="642.00" y1="1960.80" x2="642.00" y2="1969.80" stroke="#3d3d3d" stroke-width="1.3"/>
<text stroke="#000" stroke-width="0.35" x="642.00" y="1989.70" font-size="23" text-anchor="middle">0</text>
<line x1="687.95" y1="1960.80" x2="687.95" y2="1969.80" stroke="#3d3d3d" stroke-width="1.3"/>
<text stroke="#000" stroke-width="0.35" x="687.95" y="1989.70" font-size="23" text-anchor="middle">1</text>
<line x1="733.90" y1="1960.80" x2="733.90" y2="1969.80" stroke="#3d3d3d" stroke-width="1.3"/>
<text stroke="#000" stroke-width="0.35" x="733.90" y="1989.70" font-size="23" text-anchor="middle">2</text>
<line x1="779.85" y1="1960.80" x2="779.85" y2="1969.80" stroke="#3d3d3d" stroke-width="1.3"/>
<text stroke="#000" stroke-width="0.35" x="779.85" y="1989.70" font-size="23" text-anchor="middle">3</text>
<line x1="825.80" y1="1960.80" x2="825.80" y2="1969.80" stroke="#3d3d3d" stroke-width="1.3"/>
<text stroke="#000" stroke-width="0.35" x="825.80" y="1989.70" font-size="23" text-anchor="middle">4</text>
<text stroke="#000" stroke-width="0.35" x="735.70" y="2018.70" font-size="28" text-anchor="middle">−log10(padj)</text>
<text stroke="#000" stroke-width="0.35" x="901.80" y="1577.30" font-size="27.5">Overlap</text>
<rect x="901.00" y="1597.20" width="49.20" height="241.70" fill="url(#gov)"/>
<line x1="901.00" y1="1598.30" x2="910.30" y2="1598.30" stroke="#fff" stroke-width="1.7" stroke-opacity="0.85"/>
<line x1="940.90" y1="1598.30" x2="950.20" y2="1598.30" stroke="#fff" stroke-width="1.7" stroke-opacity="0.85"/>
<text stroke="#000" stroke-width="0.35" x="961.30" y="1608.20" font-size="27.5">11</text>
<line x1="901.00" y1="1646.34" x2="910.30" y2="1646.34" stroke="#fff" stroke-width="1.7" stroke-opacity="0.85"/>
<line x1="940.90" y1="1646.34" x2="950.20" y2="1646.34" stroke="#fff" stroke-width="1.7" stroke-opacity="0.85"/>
<text stroke="#000" stroke-width="0.35" x="961.30" y="1656.24" font-size="27.5">10</text>
<line x1="901.00" y1="1694.38" x2="910.30" y2="1694.38" stroke="#fff" stroke-width="1.7" stroke-opacity="0.85"/>
<line x1="940.90" y1="1694.38" x2="950.20" y2="1694.38" stroke="#fff" stroke-width="1.7" stroke-opacity="0.85"/>
<text stroke="#000" stroke-width="0.35" x="961.30" y="1704.28" font-size="27.5">9</text>
<line x1="901.00" y1="1742.42" x2="910.30" y2="1742.42" stroke="#fff" stroke-width="1.7" stroke-opacity="0.85"/>
<line x1="940.90" y1="1742.42" x2="950.20" y2="1742.42" stroke="#fff" stroke-width="1.7" stroke-opacity="0.85"/>
<text stroke="#000" stroke-width="0.35" x="961.30" y="1752.32" font-size="27.5">8</text>
<line x1="901.00" y1="1790.46" x2="910.30" y2="1790.46" stroke="#fff" stroke-width="1.7" stroke-opacity="0.85"/>
<line x1="940.90" y1="1790.46" x2="950.20" y2="1790.46" stroke="#fff" stroke-width="1.7" stroke-opacity="0.85"/>
<text stroke="#000" stroke-width="0.35" x="961.30" y="1800.36" font-size="27.5">7</text>
<line x1="901.00" y1="1838.50" x2="910.30" y2="1838.50" stroke="#fff" stroke-width="1.7" stroke-opacity="0.85"/>
<line x1="940.90" y1="1838.50" x2="950.20" y2="1838.50" stroke="#fff" stroke-width="1.7" stroke-opacity="0.85"/>
<text stroke="#000" stroke-width="0.35" x="961.30" y="1848.40" font-size="27.5">6</text>
<text stroke="#231f20" stroke-width="0.35" x="1028.70" y="1416.50" font-size="64" font-weight="bold" fill="#231f20" textLength="35.80" lengthAdjust="spacingAndGlyphs">e</text>
<rect x="1199.20" y="1391.00" width="221.80" height="41.60" fill="#d9d9d9" stroke="#333" stroke-width="2.2"/>
<text stroke="#111" stroke-width="0.35" x="1307.60" y="1419.90" font-size="24" text-anchor="middle" fill="#111" textLength="124.00" lengthAdjust="spacingAndGlyphs">Cluster 100</text>
<rect x="1433.30" y="1391.00" width="221.50" height="41.60" fill="#d9d9d9" stroke="#333" stroke-width="2.2"/>
<text stroke="#111" stroke-width="0.35" x="1545.55" y="1419.9" font-size="24" text-anchor="middle" fill="#111">Oliveira <tspan font-style="italic">et al.</tspan></text>
<rect x="1667.70" y="1391.00" width="221.10" height="41.60" fill="#d9d9d9" stroke="#333" stroke-width="2.2"/>
<text stroke="#111" stroke-width="0.35" x="1776.25" y="1419.9" font-size="24" text-anchor="middle" fill="#111">Lowery <tspan font-style="italic">et al.</tspan></text>
<rect x="1914.30" y="1391.00" width="222.20" height="41.60" fill="#d9d9d9" stroke="#333" stroke-width="2.2"/>
<text stroke="#111" stroke-width="0.35" x="2023.40" y="1419.9" font-size="24" text-anchor="middle" fill="#111">Meng <tspan font-style="italic">et al.</tspan></text>
<line x1="1192.60" y1="1963.90" x2="1199.20" y2="1963.90" stroke="#1a1a1a" stroke-width="2.2"/>
<text stroke="#111" stroke-width="0.35" x="1186.80" y="1971.70" font-size="24" text-anchor="end" fill="#111">0.0</text>
<line x1="1192.60" y1="1826.30" x2="1199.20" y2="1826.30" stroke="#1a1a1a" stroke-width="2.2"/>
<text stroke="#111" stroke-width="0.35" x="1186.80" y="1834.10" font-size="24" text-anchor="end" fill="#111">0.2</text>
<line x1="1192.60" y1="1688.70" x2="1199.20" y2="1688.70" stroke="#1a1a1a" stroke-width="2.2"/>
<text stroke="#111" stroke-width="0.35" x="1186.80" y="1696.50" font-size="24" text-anchor="end" fill="#111">0.4</text>
<line x1="1192.60" y1="1551.10" x2="1199.20" y2="1551.10" stroke="#1a1a1a" stroke-width="2.2"/>
<text stroke="#111" stroke-width="0.35" x="1186.80" y="1558.90" font-size="24" text-anchor="end" fill="#111">0.6</text>
<line x1="1259.50" y1="1457.30" x2="1259.50" y2="1578.90" stroke="#555" stroke-width="1.5"/>
<line x1="1259.50" y1="1860.40" x2="1259.50" y2="1888.50" stroke="#555" stroke-width="1.5"/>
<rect x="1221.75" y="1578.90" width="75.50" height="281.50" fill="#d3e59a" stroke="#444" stroke-width="1.3"/>
<line x1="1221.75" y1="1784.30" x2="1297.25" y2="1784.30" stroke="#444" stroke-width="1.5"/>
<line x1="1360.20" y1="1859.80" x2="1360.20" y2="1875.20" stroke="#555" stroke-width="1.5"/>
<line x1="1360.20" y1="1956.00" x2="1360.20" y2="1961.00" stroke="#555" stroke-width="1.5"/>
<rect x="1322.45" y="1875.20" width="75.50" height="80.80" fill="#d3d3d3" stroke="#444" stroke-width="1.3"/>
<line x1="1322.45" y1="1940.60" x2="1397.95" y2="1940.60" stroke="#444" stroke-width="1.5"/>
<circle cx="1259.50" cy="1457.30" r="7.60" fill="#36918f"/>
<circle cx="1259.50" cy="1526.80" r="7.60" fill="#36918f"/>
<circle cx="1259.50" cy="1736.40" r="7.60" fill="#8a9a5b"/>
<circle cx="1259.50" cy="1832.30" r="7.60" fill="#36918f"/>
<circle cx="1271.50" cy="1869.20" r="7.60" fill="#36918f"/>
<circle cx="1259.50" cy="1888.50" r="7.60" fill="#8a9a5b"/>
<circle cx="1354.30" cy="1856.00" r="7.60" fill="#a5a5a5"/>
<circle cx="1369.80" cy="1861.90" r="7.60" fill="#a5a5a5"/>
<circle cx="1360.30" cy="1888.50" r="7.60" fill="#1a1a1a"/>
<circle cx="1386.90" cy="1940.30" r="7.60" fill="#1a1a1a"/>
<circle cx="1346.00" cy="1956.50" r="7.60" fill="#1a1a1a"/>
<circle cx="1360.30" cy="1961.00" r="7.60" fill="#a5a5a5"/>
<circle cx="1374.20" cy="1956.00" r="7.60" fill="#1a1a1a"/>
<rect x="1199.20" y="1432.60" width="221.80" height="553.40" fill="none" stroke="#333" stroke-width="1.4"/>
<line x1="1259.70" y1="1986.00" x2="1259.70" y2="1993.00" stroke="#333" stroke-width="1.3"/>
<line x1="1360.40" y1="1986.00" x2="1360.40" y2="1993.00" stroke="#333" stroke-width="1.3"/>
<text stroke="#0e8f4a" stroke-width="0.35" x="1261.70" y="2021.50" font-size="28" text-anchor="middle" font-weight="bold" fill="#0e8f4a">R</text>
<text stroke="#111" stroke-width="0.35" x="1364.90" y="2021.50" font-size="28" text-anchor="middle" fill="#111">NR</text>
<line x1="1493.60" y1="1817.00" x2="1493.60" y2="1896.30" stroke="#555" stroke-width="1.5"/>
<rect x="1455.85" y="1617.80" width="75.50" height="199.20" fill="#d3e59a" stroke="#444" stroke-width="1.3"/>
<line x1="1455.85" y1="1719.10" x2="1531.35" y2="1719.10" stroke="#444" stroke-width="1.5"/>
<line x1="1594.30" y1="1822.00" x2="1594.30" y2="1869.60" stroke="#555" stroke-width="1.5"/>
<line x1="1594.30" y1="1943.10" x2="1594.30" y2="1959.20" stroke="#555" stroke-width="1.5"/>
<rect x="1556.55" y="1869.60" width="75.50" height="73.50" fill="#d3d3d3" stroke="#444" stroke-width="1.3"/>
<line x1="1556.55" y1="1938.20" x2="1632.05" y2="1938.20" stroke="#444" stroke-width="1.5"/>
<circle cx="1482.90" cy="1603.60" r="7.60" fill="#36918f"/>
<circle cx="1497.00" cy="1609.30" r="7.60" fill="#8a9a5b"/>
<circle cx="1493.60" cy="1643.60" r="7.60" fill="#36918f"/>
<circle cx="1501.20" cy="1795.30" r="7.60" fill="#36918f"/>
<circle cx="1493.60" cy="1824.60" r="7.60" fill="#36918f"/>
<circle cx="1493.60" cy="1896.30" r="7.60" fill="#8a9a5b"/>
<circle cx="1594.20" cy="1822.00" r="7.60" fill="#a5a5a5"/>
<circle cx="1607.90" cy="1820.00" r="7.60" fill="#a5a5a5"/>
<circle cx="1594.20" cy="1918.00" r="7.60" fill="#1a1a1a"/>
<circle cx="1568.60" cy="1938.20" r="7.60" fill="#1a1a1a"/>
<circle cx="1582.70" cy="1939.30" r="7.60" fill="#1a1a1a"/>
<circle cx="1607.90" cy="1947.00" r="7.60" fill="#a5a5a5"/>
<circle cx="1594.20" cy="1959.20" r="7.60" fill="#1a1a1a"/>
<rect x="1433.30" y="1432.60" width="221.50" height="553.40" fill="none" stroke="#333" stroke-width="1.4"/>
<line x1="1493.80" y1="1986.00" x2="1493.80" y2="1993.00" stroke="#333" stroke-width="1.3"/>
<line x1="1594.50" y1="1986.00" x2="1594.50" y2="1993.00" stroke="#333" stroke-width="1.3"/>
<text stroke="#0e8f4a" stroke-width="0.35" x="1495.80" y="2021.50" font-size="28" text-anchor="middle" font-weight="bold" fill="#0e8f4a">R</text>
<text stroke="#111" stroke-width="0.35" x="1599.00" y="2021.50" font-size="28" text-anchor="middle" fill="#111">NR</text>
<line x1="1728.00" y1="1684.40" x2="1728.00" y2="1695.10" stroke="#555" stroke-width="1.5"/>
<line x1="1728.00" y1="1775.10" x2="1728.00" y2="1833.40" stroke="#555" stroke-width="1.5"/>
<rect x="1690.25" y="1695.10" width="75.50" height="80.00" fill="#d3e59a" stroke="#444" stroke-width="1.3"/>
<line x1="1690.25" y1="1746.90" x2="1765.75" y2="1746.90" stroke="#444" stroke-width="1.5"/>
<line x1="1828.50" y1="1780.00" x2="1828.50" y2="1826.50" stroke="#555" stroke-width="1.5"/>
<line x1="1828.50" y1="1905.00" x2="1828.50" y2="1938.20" stroke="#555" stroke-width="1.5"/>
<rect x="1790.75" y="1826.50" width="75.50" height="78.50" fill="#d3d3d3" stroke="#444" stroke-width="1.3"/>
<line x1="1790.75" y1="1847.90" x2="1866.25" y2="1847.90" stroke="#444" stroke-width="1.5"/>
<circle cx="1727.90" cy="1555.60" r="7.60" fill="#8a9a5b"/>
<circle cx="1727.90" cy="1684.40" r="7.60" fill="#36918f"/>
<circle cx="1727.90" cy="1727.80" r="7.60" fill="#36918f"/>
<circle cx="1741.30" cy="1766.70" r="7.60" fill="#36918f"/>
<circle cx="1727.90" cy="1778.90" r="7.60" fill="#36918f"/>
<circle cx="1727.90" cy="1833.40" r="7.60" fill="#8a9a5b"/>
<circle cx="1828.50" cy="1780.00" r="7.60" fill="#a5a5a5"/>
<circle cx="1818.30" cy="1823.90" r="7.60" fill="#a5a5a5"/>
<circle cx="1840.00" cy="1828.80" r="7.60" fill="#1a1a1a"/>
<circle cx="1828.50" cy="1848.60" r="7.60" fill="#1a1a1a"/>
<circle cx="1828.50" cy="1888.60" r="7.60" fill="#1a1a1a"/>
<circle cx="1840.40" cy="1921.00" r="7.60" fill="#a5a5a5"/>
<circle cx="1828.50" cy="1938.20" r="7.60" fill="#1a1a1a"/>
<rect x="1667.70" y="1432.60" width="221.10" height="553.40" fill="none" stroke="#333" stroke-width="1.4"/>
<line x1="1728.20" y1="1986.00" x2="1728.20" y2="1993.00" stroke="#333" stroke-width="1.3"/>
<line x1="1828.90" y1="1986.00" x2="1828.90" y2="1993.00" stroke="#333" stroke-width="1.3"/>
<text stroke="#0e8f4a" stroke-width="0.35" x="1730.20" y="2021.50" font-size="28" text-anchor="middle" font-weight="bold" fill="#0e8f4a">R</text>
<text stroke="#111" stroke-width="0.35" x="1833.40" y="2021.50" font-size="28" text-anchor="middle" fill="#111">NR</text>
<line x1="1975.30" y1="1528.90" x2="1975.30" y2="1624.60" stroke="#555" stroke-width="1.5"/>
<line x1="1975.30" y1="1819.30" x2="1975.30" y2="1850.50" stroke="#555" stroke-width="1.5"/>
<rect x="1937.55" y="1624.60" width="75.50" height="194.70" fill="#d3e59a" stroke="#444" stroke-width="1.3"/>
<line x1="1937.55" y1="1756.40" x2="2013.05" y2="1756.40" stroke="#444" stroke-width="1.5"/>
<line x1="2075.80" y1="1822.00" x2="2075.80" y2="1850.50" stroke="#555" stroke-width="1.5"/>
<line x1="2075.80" y1="1947.00" x2="2075.80" y2="1951.50" stroke="#555" stroke-width="1.5"/>
<rect x="2038.05" y="1850.50" width="75.50" height="96.50" fill="#d3d3d3" stroke="#444" stroke-width="1.3"/>
<line x1="2038.05" y1="1883.70" x2="2113.55" y2="1883.70" stroke="#444" stroke-width="1.5"/>
<circle cx="1975.30" cy="1528.90" r="7.60" fill="#36918f"/>
<circle cx="1975.30" cy="1599.40" r="7.60" fill="#36918f"/>
<circle cx="1975.30" cy="1700.40" r="7.60" fill="#8a9a5b"/>
<circle cx="1969.90" cy="1811.70" r="7.60" fill="#36918f"/>
<circle cx="1983.30" cy="1822.00" r="7.60" fill="#36918f"/>
<circle cx="1975.30" cy="1850.50" r="7.60" fill="#8a9a5b"/>
<circle cx="2087.70" cy="1822.00" r="7.60" fill="#a5a5a5"/>
<circle cx="2071.70" cy="1844.00" r="7.60" fill="#a5a5a5"/>
<circle cx="2085.00" cy="1856.30" r="7.60" fill="#1a1a1a"/>
<circle cx="2075.50" cy="1882.90" r="7.60" fill="#1a1a1a"/>
<circle cx="2062.20" cy="1942.80" r="7.60" fill="#1a1a1a"/>
<circle cx="2075.50" cy="1951.50" r="7.60" fill="#1a1a1a"/>
<circle cx="2089.60" cy="1951.50" r="7.60" fill="#a5a5a5"/>
<rect x="1914.30" y="1432.60" width="222.20" height="553.40" fill="none" stroke="#333" stroke-width="1.4"/>
<line x1="1974.80" y1="1986.00" x2="1974.80" y2="1993.00" stroke="#333" stroke-width="1.3"/>
<line x1="2075.50" y1="1986.00" x2="2075.50" y2="1993.00" stroke="#333" stroke-width="1.3"/>
<text stroke="#0e8f4a" stroke-width="0.35" x="1976.80" y="2021.50" font-size="28" text-anchor="middle" font-weight="bold" fill="#0e8f4a">R</text>
<text stroke="#111" stroke-width="0.35" x="2080.00" y="2021.50" font-size="28" text-anchor="middle" fill="#111">NR</text>
<text stroke="#111" stroke-width="0.35" x="1312.30" y="1463.00" font-size="36" text-anchor="middle" font-weight="bold" fill="#111">*</text>
<text stroke="#111" stroke-width="0.35" x="1539.30" y="1463.00" font-size="36" text-anchor="middle" font-weight="bold" fill="#111">*</text>
<text stroke="#111" stroke-width="0.35" x="1773.30" y="1463.00" font-size="36" text-anchor="middle" font-weight="bold" fill="#111">*</text>
<text stroke="#111" stroke-width="0.35" x="2020.20" y="1463.00" font-size="36" text-anchor="middle" font-weight="bold" fill="#111">*</text>
<text stroke="#111" stroke-width="0.35" transform="translate(1106.0,1711.4) rotate(-90)" font-size="28" text-anchor="middle" fill="#111" textLength="376" lengthAdjust="spacingAndGlyphs">Frequency of cells with inferred</text>
<text stroke="#111" stroke-width="0.35" transform="translate(1140.5,1705.5) rotate(-90)" font-size="28" text-anchor="middle" fill="#111">signature high score within CD8<tspan font-size="17" dy="-11">+</tspan></text>
<text stroke="#111" stroke-width="0.35" x="1369.20" y="2074.30" font-size="28" fill="#111">Response type:</text>
<circle cx="1580.10" cy="2066.70" r="8.40" fill="#8a9a5b"/>
<text stroke="#111" stroke-width="0.35" x="1606.70" y="2075.40" font-size="28" fill="#111">CR</text>
<circle cx="1681.00" cy="2066.70" r="8.40" fill="#36918f"/>
<text stroke="#111" stroke-width="0.35" x="1707.70" y="2075.40" font-size="28" fill="#111">PR</text>
<circle cx="1785.10" cy="2066.70" r="8.40" fill="#a5a5a5"/>
<text stroke="#111" stroke-width="0.35" x="1812.50" y="2075.40" font-size="28" fill="#111">SD</text>
<circle cx="1884.20" cy="2066.70" r="8.40" fill="#1a1a1a"/>
<text stroke="#111" stroke-width="0.35" x="1910.50" y="2075.40" font-size="28" fill="#111">PD</text>
</svg></body></html>
